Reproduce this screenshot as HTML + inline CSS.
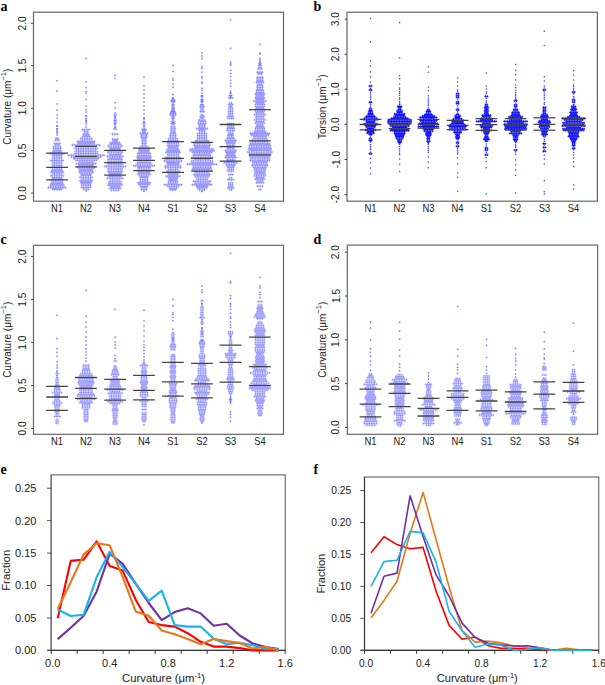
<!DOCTYPE html><html><head><meta charset="utf-8"><style>html,body{margin:0;padding:0;background:#fff;overflow:hidden;font-family:"Liberation Sans",sans-serif}svg{display:block}</style></head><body><svg width="605" height="685" viewBox="0 0 605 685" font-family="'Liberation Sans', sans-serif" fill="#222"><defs><filter id="bl" x="-5%" y="-5%" width="110%" height="110%"><feGaussianBlur stdDeviation="0.45"/></filter><filter id="bl2"><feGaussianBlur stdDeviation="0.3"/></filter></defs><rect width="605" height="685" fill="#fff"/><text x="0.5" y="11" font-family="'Liberation Serif', serif" font-weight="bold" font-size="14" fill="#000">a</text><text x="313.5" y="10.5" font-family="'Liberation Serif', serif" font-weight="bold" font-size="14" fill="#000">b</text><text x="0.5" y="243.5" font-family="'Liberation Serif', serif" font-weight="bold" font-size="14" fill="#000">c</text><text x="313.5" y="243.5" font-family="'Liberation Serif', serif" font-weight="bold" font-size="14" fill="#000">d</text><text x="0.5" y="474" font-family="'Liberation Serif', serif" font-weight="bold" font-size="14" fill="#000">e</text><text x="313.5" y="474" font-family="'Liberation Serif', serif" font-weight="bold" font-size="14" fill="#000">f</text><g filter="url(#bl)"><path d="M55 138.4h4.3M54.1 140.1h6M53.3 143.5h7.7M54.1 145.2h6M52.4 146.9h9.4M52.4 148.6h9.4M52.4 150.3h9.4M51.6 152h11.1M49 153.7h16.2M51.6 155.4h11.1M51.6 157.1h11.1M51.6 158.8h11.1M49.9 160.5h14.5M51.6 162.2h11.1M51.6 163.9h11.1M51.6 165.6h11.1M51.6 167.3h11.1M51.6 169h11.1M50.7 170.7h12.8M49.9 172.4h14.5M51.6 174.1h11.1M49.9 175.8h14.5M51.6 177.5h11.1M50.7 179.2h12.8M50.7 180.9h12.8M50.7 182.6h12.8M49.9 184.3h14.5M49 186h16.2M47.3 187.7h19.6M51.6 189.4h11.1" stroke="#5050ff" stroke-opacity="0.5" stroke-width="0.9" fill="none"/><path d="M55.8 138.4h2.6M54.9 140.1h4.3M54.1 143.5h6M54.9 145.2h4.3M53.2 146.9h7.7M53.2 148.6h7.7M53.2 150.3h7.7M52.4 152h9.4M49.9 153.7h14.5M52.4 155.4h9.4M52.4 157.1h9.4M52.4 158.8h9.4M50.7 160.5h12.8M52.4 162.2h9.4M52.4 163.9h9.4M52.4 165.6h9.4M52.4 167.3h9.4M52.4 169h9.4M51.5 170.7h11.1M50.7 172.4h12.8M52.4 174.1h9.4M50.7 175.8h12.8M52.4 177.5h9.4M51.5 179.2h11.1M51.5 180.9h11.1M51.5 182.6h11.1M50.7 184.3h12.8M49.9 186h14.5M48.1 187.7h17.9M52.4 189.4h9.4" stroke="#5050ff" stroke-opacity="0.5" stroke-width="2.6" stroke-dasharray="0.9 0.8" fill="none"/><path d="M56.1 80.7h2m-1 -1v2M56.1 91h2m-1 -1v2M56.1 104h2m-1 -1v2M56.1 110h2m-1 -1v2M56.1 115h2m-1 -1v2M56.1 118h2m-1 -1v2M56.1 122h2m-1 -1v2M56.1 126h2m-1 -1v2M56.1 129h2m-1 -1v2M56.1 132h2m-1 -1v2M56.1 126h2m-1 -1v2M56.1 128.8h2m-1 -1v2M56.1 130.7h2m-1 -1v2M56.1 133h2m-1 -1v2M56.1 135h2m-1 -1v2" stroke="#5050ff" stroke-opacity="0.55" stroke-width="0.9" fill="none"/><path d="M81.4 129.7h9.4M83.1 131.4h6M83.1 133.1h6M82.2 134.8h7.7M81.4 136.5h9.4M79.7 138.2h12.8M79.7 139.9h12.8M76.3 141.6h19.6M77.1 143.3h17.9M71.2 145h29.8M77.1 146.7h17.9M73.8 148.4h24.7M75.5 150.1h21.3M73.8 151.8h24.7M73.8 153.5h24.7M67 155.2h38.3M70.3 156.9h31.5M72.9 158.6h26.4M74.6 160.3h23M78 162h16.2M75.5 163.7h21.3M78 165.4h16.2M76.3 167.1h19.6M78 168.8h16.2M78.8 170.5h14.5M78 172.2h16.2M79.7 173.9h12.8M80.5 175.6h11.1M78.8 177.3h14.5M80.5 179h11.1M78.8 180.7h14.5M79.7 182.4h12.8M80.5 184.1h11.1M80.5 185.8h11.1M80.5 187.5h11.1M82.2 189.2h7.7" stroke="#5050ff" stroke-opacity="0.5" stroke-width="0.9" fill="none"/><path d="M82.2 129.7h7.7M83.9 131.4h4.3M83.9 133.1h4.3M83.1 134.8h6M82.2 136.5h7.7M80.5 138.2h11.1M80.5 139.9h11.1M77.1 141.6h17.9M78 143.3h16.2M72 145h28.1M78 146.7h16.2M74.6 148.4h23M76.3 150.1h19.6M74.6 151.8h23M74.6 153.5h23M67.8 155.2h36.6M71.2 156.9h29.8M73.7 158.6h24.7M75.4 160.3h21.3M78.8 162h14.5M76.3 163.7h19.6M78.8 165.4h14.5M77.1 167.1h17.9M78.8 168.8h14.5M79.7 170.5h12.8M78.8 172.2h14.5M80.5 173.9h11.1M81.4 175.6h9.4M79.7 177.3h12.8M81.4 179h9.4M79.7 180.7h12.8M80.5 182.4h11.1M81.4 184.1h9.4M81.4 185.8h9.4M81.4 187.5h9.4M83.1 189.2h6" stroke="#5050ff" stroke-opacity="0.5" stroke-width="2.6" stroke-dasharray="0.9 0.8" fill="none"/><path d="M85.1 58.5h2m-1 -1v2M85.1 82h2m-1 -1v2M85.1 87.7h2m-1 -1v2M85.1 91.5h2m-1 -1v2M85.1 93.5h2m-1 -1v2M85.1 99.5h2m-1 -1v2M85.1 106h2m-1 -1v2M85.1 109.5h2m-1 -1v2M85.1 112h2m-1 -1v2M85.1 116h2m-1 -1v2M85.1 119h2m-1 -1v2M85.1 121h2m-1 -1v2M85.1 116h2m-1 -1v2M85.1 118.4h2m-1 -1v2M85.1 120.8h2m-1 -1v2M85.1 122.5h2m-1 -1v2M85.1 124.3h2m-1 -1v2M85.1 127.1h2m-1 -1v2M85.1 190.9h2m-1 -1v2" stroke="#5050ff" stroke-opacity="0.55" stroke-width="0.9" fill="none"/><path d="M113 115h4.3M113 120.2h4.3M113 122.9h4.3M113 129h4.3M111.2 134.1h7.7M111.2 139.2h7.7M112.1 140.9h6M109.5 142.6h11.1M108.7 144.3h12.8M107 146h16.2M108.7 147.7h12.8M109.5 149.4h11.1M107 151.1h16.2M107 152.8h16.2M108.7 154.5h12.8M106.1 156.2h17.9M107.8 157.9h14.5M107 159.6h16.2M107 161.3h16.2M107 163h16.2M107 164.7h16.2M103.6 166.4h23M107 168.1h16.2M107 169.8h16.2M107 171.5h16.2M107.8 173.2h14.5M108.7 174.9h12.8M107.8 176.6h14.5M106.1 178.3h17.9M109.5 180h11.1M107.8 181.7h14.5M107.8 183.4h14.5M107 185.1h16.2M109.5 186.8h11.1M108.7 188.5h12.8M110.4 190.2h9.4" stroke="#5050ff" stroke-opacity="0.5" stroke-width="0.9" fill="none"/><path d="M113.8 115h2.6M113.8 120.2h2.6M113.8 122.9h2.6M113.8 129h2.6M112.1 134.1h6M112.1 139.2h6M112.9 140.9h4.3M110.4 142.6h9.4M109.5 144.3h11.1M107.8 146h14.5M109.5 147.7h11.1M110.4 149.4h9.4M107.8 151.1h14.5M107.8 152.8h14.5M109.5 154.5h11.1M107 156.2h16.2M108.7 157.9h12.8M107.8 159.6h14.5M107.8 161.3h14.5M107.8 163h14.5M107.8 164.7h14.5M104.4 166.4h21.3M107.8 168.1h14.5M107.8 169.8h14.5M107.8 171.5h14.5M108.7 173.2h12.8M109.5 174.9h11.1M108.7 176.6h12.8M107 178.3h16.2M110.4 180h9.4M108.7 181.7h12.8M108.7 183.4h12.8M107.8 185.1h14.5M110.4 186.8h9.4M109.5 188.5h11.1M111.2 190.2h7.7" stroke="#5050ff" stroke-opacity="0.5" stroke-width="2.6" stroke-dasharray="0.9 0.8" fill="none"/><path d="M114.1 75.4h2m-1 -1v2M114.1 78.3h2m-1 -1v2M114.1 102.7h2m-1 -1v2M114.1 108h2m-1 -1v2M114.1 113h2m-1 -1v2M114.1 117h2m-1 -1v2M114.1 121h2m-1 -1v2M114.1 124h2m-1 -1v2M114.1 127h2m-1 -1v2M114.1 116.8h2m-1 -1v2M114.1 118.5h2m-1 -1v2M114.1 125h2m-1 -1v2M114.1 127.7h2m-1 -1v2" stroke="#5050ff" stroke-opacity="0.55" stroke-width="0.9" fill="none"/><path d="M141.8 124h4.3M141.8 129.1h4.3M141 130h6M141.8 131.7h4.3M139.3 133.4h9.4M140.1 135.1h7.7M140.1 136.8h7.7M141 138.5h6M141 140.2h6M141 141.9h6M141 143.6h6M141 145.3h6M139.3 147h9.4M137.6 148.7h12.8M138.4 150.4h11.1M137.6 152.1h12.8M136.8 153.8h14.5M136.8 155.5h14.5M135.9 157.2h16.2M136.8 158.9h14.5M136.8 160.6h14.5M136.8 162.3h14.5M135.9 164h16.2M132.5 165.7h23M136.8 167.4h14.5M136.8 169.1h14.5M136.8 170.8h14.5M137.6 172.5h12.8M136.8 174.2h14.5M138.4 175.9h11.1M139.3 177.6h9.4M139.3 179.3h9.4M139.3 181h9.4M136.8 182.7h14.5M137.6 184.4h12.8M139.3 186.1h9.4M140.1 187.8h7.7M140.1 189.5h7.7" stroke="#5050ff" stroke-opacity="0.5" stroke-width="0.9" fill="none"/><path d="M142.7 124h2.6M142.7 129.1h2.6M141.9 130h4.3M142.7 131.7h2.6M140.2 133.4h7.7M141 135.1h6M141 136.8h6M141.9 138.5h4.3M141.9 140.2h4.3M141.9 141.9h4.3M141.9 143.6h4.3M141.9 145.3h4.3M140.2 147h7.7M138.5 148.7h11.1M139.3 150.4h9.4M138.5 152.1h11.1M137.6 153.8h12.8M137.6 155.5h12.8M136.8 157.2h14.5M137.6 158.9h12.8M137.6 160.6h12.8M137.6 162.3h12.8M136.8 164h14.5M133.4 165.7h21.3M137.6 167.4h12.8M137.6 169.1h12.8M137.6 170.8h12.8M138.5 172.5h11.1M137.6 174.2h12.8M139.3 175.9h9.4M140.2 177.6h7.7M140.2 179.3h7.7M140.2 181h7.7M137.6 182.7h12.8M138.5 184.4h11.1M140.2 186.1h7.7M141 187.8h6M141 189.5h6" stroke="#5050ff" stroke-opacity="0.5" stroke-width="2.6" stroke-dasharray="0.9 0.8" fill="none"/><path d="M143 76.9h2m-1 -1v2M143 86h2m-1 -1v2M143 90h2m-1 -1v2M143 94h2m-1 -1v2M143 98h2m-1 -1v2M143 102h2m-1 -1v2M143 106h2m-1 -1v2M143 110h2m-1 -1v2M143 114h2m-1 -1v2M143 118h2m-1 -1v2M143 122h2m-1 -1v2M143 126h2m-1 -1v2M143 118h2m-1 -1v2M143 119.8h2m-1 -1v2M143 122.4h2m-1 -1v2M143 126.8h2m-1 -1v2M143 191.2h2m-1 -1v2" stroke="#5050ff" stroke-opacity="0.55" stroke-width="0.9" fill="none"/><path d="M170.8 100.3h4.3M170.8 106.9h4.3M170.8 111h4.3M170.8 113.6h4.3M170.8 99.7h4.3M170 101.4h6M170.8 104.8h4.3M170.8 108.2h4.3M170.8 109.9h4.3M170 111.6h6M169.1 113.3h7.7M169.1 115h7.7M170.8 116.7h4.3M170.8 118.4h4.3M170 121.8h6M170 123.5h6M170 126.9h6M170 128.6h6M170 130.3h6M170 132h6M169.1 133.7h7.7M169.1 135.4h7.7M169.1 137.1h7.7M167.4 138.8h11.1M167.4 140.5h11.1M166.6 142.2h12.8M166.6 143.9h12.8M166.6 145.6h12.8M167.4 147.3h11.1M166.6 149h12.8M165.8 150.7h14.5M164.9 152.4h16.2M166.6 154.1h12.8M166.6 155.8h12.8M164.9 157.5h16.2M164.9 159.2h16.2M163.2 160.9h19.6M165.8 162.6h14.5M166.6 164.3h12.8M164 166h17.9M164 167.7h17.9M167.4 169.4h11.1M165.8 171.1h14.5M166.6 172.8h12.8M167.4 174.5h11.1M164.9 176.2h16.2M167.4 177.9h11.1M168.3 179.6h9.4M167.4 181.3h11.1M167.4 183h11.1M163.2 184.7h19.6M166.6 186.4h12.8M168.3 188.1h9.4M169.1 189.8h7.7" stroke="#5050ff" stroke-opacity="0.5" stroke-width="0.9" fill="none"/><path d="M171.7 100.3h2.6M171.7 106.9h2.6M171.7 111h2.6M171.7 113.6h2.6M171.7 99.7h2.6M170.9 101.4h4.3M171.7 104.8h2.6M171.7 108.2h2.6M171.7 109.9h2.6M170.9 111.6h4.3M170 113.3h6M170 115h6M171.7 116.7h2.6M171.7 118.4h2.6M170.9 121.8h4.3M170.9 123.5h4.3M170.9 126.9h4.3M170.9 128.6h4.3M170.9 130.3h4.3M170.9 132h4.3M170 133.7h6M170 135.4h6M170 137.1h6M168.3 138.8h9.4M168.3 140.5h9.4M167.5 142.2h11.1M167.5 143.9h11.1M167.5 145.6h11.1M168.3 147.3h9.4M167.5 149h11.1M166.6 150.7h12.8M165.8 152.4h14.5M167.5 154.1h11.1M167.5 155.8h11.1M165.8 157.5h14.5M165.8 159.2h14.5M164.1 160.9h17.9M166.6 162.6h12.8M167.5 164.3h11.1M164.9 166h16.2M164.9 167.7h16.2M168.3 169.4h9.4M166.6 171.1h12.8M167.5 172.8h11.1M168.3 174.5h9.4M165.8 176.2h14.5M168.3 177.9h9.4M169.2 179.6h7.7M168.3 181.3h9.4M168.3 183h9.4M164.1 184.7h17.9M167.5 186.4h11.1M169.2 188.1h7.7M170 189.8h6" stroke="#5050ff" stroke-opacity="0.5" stroke-width="2.6" stroke-dasharray="0.9 0.8" fill="none"/><path d="M172 65.5h2m-1 -1v2M172 71.4h2m-1 -1v2M172 78.4h2m-1 -1v2M172 80.3h2m-1 -1v2M172 84h2m-1 -1v2M172 87.1h2m-1 -1v2M172 94.5h2m-1 -1v2M172 98h2m-1 -1v2M172 103h2m-1 -1v2M172 105.1h2m-1 -1v2M172 108.6h2m-1 -1v2M172 115.4h2m-1 -1v2M172 117.8h2m-1 -1v2M172 120.1h2m-1 -1v2M172 122.5h2m-1 -1v2M172 124.7h2m-1 -1v2M172 98h2m-1 -1v2" stroke="#5050ff" stroke-opacity="0.55" stroke-width="0.9" fill="none"/><path d="M199.8 96h4.3M199.8 104.5h4.3M199.8 99.7h4.3M199.8 101.4h4.3M199.8 104.8h4.3M199 106.5h6M199.8 108.2h4.3M199.8 109.9h4.3M199 111.6h6M199.8 115h4.3M199 116.7h6M199.8 118.4h4.3M198.1 120.1h7.7M197.3 121.8h9.4M197.3 123.5h9.4M198.1 125.2h7.7M198.1 126.9h7.7M195.6 128.6h12.8M198.1 130.3h7.7M198.1 132h7.7M196.4 133.7h11.1M196.4 135.4h11.1M196.4 137.1h11.1M196.4 138.8h11.1M194.8 140.5h14.5M193.9 142.2h16.2M193 143.9h17.9M193 145.6h17.9M193.9 147.3h16.2M189.6 149h24.7M188.8 150.7h26.4M191.3 152.4h21.3M193 154.1h17.9M192.2 155.8h19.6M190.5 157.5h23M193.9 159.2h16.2M190.5 160.9h23M190.5 162.6h23M186.2 164.3h31.5M192.2 166h19.6M192.2 167.7h19.6M191.3 169.4h21.3M193 171.1h17.9M194.8 172.8h14.5M193 174.5h17.9M193.9 176.2h16.2M195.6 177.9h12.8M195.6 179.6h12.8M192.2 181.3h19.6M193.9 183h16.2M191.3 184.7h21.3M195.6 186.4h12.8M196.4 188.1h11.1M198.1 189.8h7.7" stroke="#5050ff" stroke-opacity="0.5" stroke-width="0.9" fill="none"/><path d="M200.7 96h2.6M200.7 104.5h2.6M200.7 99.7h2.6M200.7 101.4h2.6M200.7 104.8h2.6M199.9 106.5h4.3M200.7 108.2h2.6M200.7 109.9h2.6M199.9 111.6h4.3M200.7 115h2.6M199.9 116.7h4.3M200.7 118.4h2.6M199 120.1h6M198.2 121.8h7.7M198.2 123.5h7.7M199 125.2h6M199 126.9h6M196.5 128.6h11.1M199 130.3h6M199 132h6M197.3 133.7h9.4M197.3 135.4h9.4M197.3 137.1h9.4M197.3 138.8h9.4M195.6 140.5h12.8M194.8 142.2h14.5M193.9 143.9h16.2M193.9 145.6h16.2M194.8 147.3h14.5M190.5 149h23M189.7 150.7h24.7M192.2 152.4h19.6M193.9 154.1h16.2M193.1 155.8h17.9M191.4 157.5h21.3M194.8 159.2h14.5M191.4 160.9h21.3M191.4 162.6h21.3M187.1 164.3h29.8M193.1 166h17.9M193.1 167.7h17.9M192.2 169.4h19.6M193.9 171.1h16.2M195.6 172.8h12.8M193.9 174.5h16.2M194.8 176.2h14.5M196.5 177.9h11.1M196.5 179.6h11.1M193.1 181.3h17.9M194.8 183h14.5M192.2 184.7h19.6M196.5 186.4h11.1M197.3 188.1h9.4M199 189.8h6" stroke="#5050ff" stroke-opacity="0.5" stroke-width="2.6" stroke-dasharray="0.9 0.8" fill="none"/><path d="M201 53h2m-1 -1v2M201 56h2m-1 -1v2M201 58.6h2m-1 -1v2M201 66.6h2m-1 -1v2M201 68.5h2m-1 -1v2M201 72.2h2m-1 -1v2M201 76.6h2m-1 -1v2M201 78.4h2m-1 -1v2M201 82.1h2m-1 -1v2M201 83.4h2m-1 -1v2M201 88.3h2m-1 -1v2M201 90.2h2m-1 -1v2M201 93.3h2m-1 -1v2M201 95.8h2m-1 -1v2M201 97.6h2m-1 -1v2M201 100.2h2m-1 -1v2M201 102.3h2m-1 -1v2M201 191.5h2m-1 -1v2" stroke="#5050ff" stroke-opacity="0.55" stroke-width="0.9" fill="none"/><path d="M228.4 95.7h4.3M227.6 98h6M228.4 103.1h4.3M227.6 104.8h6M228.4 106.5h4.3M227.6 108.2h6M227.6 109.9h6M227.6 111.6h6M227.6 113.3h6M227.6 115h6M226.7 116.7h7.7M226.7 118.4h7.7M226.7 123.5h7.7M226.7 125.2h7.7M226.7 126.9h7.7M225.9 128.6h9.4M225.9 130.3h9.4M227.6 132h6M227.6 133.7h6M226.7 135.4h7.7M226.7 137.1h7.7M225.9 138.8h9.4M224.2 140.5h12.8M225 142.2h11.1M225.9 143.9h9.4M225.9 145.6h9.4M226.7 147.3h7.7M225.9 149h9.4M224.2 150.7h12.8M225 152.4h11.1M225.9 154.1h9.4M225 155.8h11.1M224.2 157.5h12.8M225.9 159.2h9.4M225.9 160.9h9.4M223.3 162.6h14.5M225 164.3h11.1M225.9 166h9.4M226.7 167.7h7.7M226.7 169.4h7.7M226.7 171.1h7.7M227.6 174.5h6M228.4 177.9h4.3M226.7 179.6h7.7M227.6 183h6M227.6 184.7h6M227.6 186.4h6M226.7 188.1h7.7M228.4 189.8h4.3" stroke="#5050ff" stroke-opacity="0.5" stroke-width="0.9" fill="none"/><path d="M229.3 95.7h2.6M228.5 98h4.3M229.3 103.1h2.6M228.5 104.8h4.3M229.3 106.5h2.6M228.5 108.2h4.3M228.5 109.9h4.3M228.5 111.6h4.3M228.5 113.3h4.3M228.5 115h4.3M227.6 116.7h6M227.6 118.4h6M227.6 123.5h6M227.6 125.2h6M227.6 126.9h6M226.8 128.6h7.7M226.8 130.3h7.7M228.5 132h4.3M228.5 133.7h4.3M227.6 135.4h6M227.6 137.1h6M226.8 138.8h7.7M225.1 140.5h11.1M225.9 142.2h9.4M226.8 143.9h7.7M226.8 145.6h7.7M227.6 147.3h6M226.8 149h7.7M225.1 150.7h11.1M225.9 152.4h9.4M226.8 154.1h7.7M225.9 155.8h9.4M225.1 157.5h11.1M226.8 159.2h7.7M226.8 160.9h7.7M224.2 162.6h12.8M225.9 164.3h9.4M226.8 166h7.7M227.6 167.7h6M227.6 169.4h6M227.6 171.1h6M228.5 174.5h4.3M229.3 177.9h2.6M227.6 179.6h6M228.5 183h4.3M228.5 184.7h4.3M228.5 186.4h4.3M227.6 188.1h6M229.3 189.8h2.6" stroke="#5050ff" stroke-opacity="0.5" stroke-width="2.6" stroke-dasharray="0.9 0.8" fill="none"/><path d="M229.6 19.8h2m-1 -1v2M229.6 48.3h2m-1 -1v2M229.6 62.2h2m-1 -1v2M229.6 64h2m-1 -1v2M229.6 65.3h2m-1 -1v2M229.6 70.3h2m-1 -1v2M229.6 73.4h2m-1 -1v2M229.6 76.5h2m-1 -1v2M229.6 80.2h2m-1 -1v2M229.6 83.3h2m-1 -1v2M229.6 86.4h2m-1 -1v2M229.6 91.3h2m-1 -1v2M229.6 93.2h2m-1 -1v2M229.6 95.7h2m-1 -1v2M229.6 93h2m-1 -1v2M229.6 97.7h2m-1 -1v2" stroke="#5050ff" stroke-opacity="0.55" stroke-width="0.9" fill="none"/><path d="M257.7 63.7h4.3M257.7 65.4h4.3M257.7 67.1h4.3M256.9 68.8h6M256 72.2h7.7M256.9 73.9h6M256 77.3h7.7M256 79h7.7M256 80.7h7.7M255.2 82.4h9.4M256.9 84.1h6M256 85.8h7.7M256 87.5h7.7M256 89.2h7.7M255.2 90.9h9.4M255.2 92.6h9.4M254.3 94.3h11.1M255.2 96h9.4M254.3 97.7h11.1M255.2 99.4h9.4M252.6 101.1h14.5M255.2 102.8h9.4M254.3 104.5h11.1M254.3 106.2h11.1M255.2 107.9h9.4M254.3 109.6h11.1M254.3 111.3h11.1M255.2 113h9.4M253.5 114.7h12.8M255.2 116.4h9.4M255.2 118.1h9.4M253.5 119.8h12.8M255.2 121.5h9.4M254.3 123.2h11.1M256 124.9h7.7M255.2 126.6h9.4M254.3 128.3h11.1M254.3 130h11.1M253.5 131.7h12.8M249.2 133.4h21.3M250.1 135.1h19.6M252.6 136.8h14.5M252.6 138.5h14.5M250.9 140.2h17.9M250.9 141.9h17.9M249.2 143.6h21.3M248.4 145.3h23M248.4 147h23M247.5 148.7h24.7M248.4 150.4h23M246.7 152.1h26.4M248.4 153.8h23M248.4 155.5h23M249.2 157.2h21.3M249.2 158.9h21.3M249.2 160.6h21.3M251.8 162.3h16.2M251.8 164h16.2M250.9 165.7h17.9M252.6 167.4h14.5M253.5 169.1h12.8M253.5 170.8h12.8M254.3 172.5h11.1M253.5 174.2h12.8M253.5 175.9h12.8M255.2 177.6h9.4M254.3 179.3h11.1M256 181h7.7M255.2 182.7h9.4M256 186.1h7.7M257.7 189.5h4.3" stroke="#5050ff" stroke-opacity="0.5" stroke-width="0.9" fill="none"/><path d="M258.6 63.7h2.6M258.6 65.4h2.6M258.6 67.1h2.6M257.8 68.8h4.3M256.9 72.2h6M257.8 73.9h4.3M256.9 77.3h6M256.9 79h6M256.9 80.7h6M256.1 82.4h7.7M257.8 84.1h4.3M256.9 85.8h6M256.9 87.5h6M256.9 89.2h6M256.1 90.9h7.7M256.1 92.6h7.7M255.2 94.3h9.4M256.1 96h7.7M255.2 97.7h9.4M256.1 99.4h7.7M253.5 101.1h12.8M256.1 102.8h7.7M255.2 104.5h9.4M255.2 106.2h9.4M256.1 107.9h7.7M255.2 109.6h9.4M255.2 111.3h9.4M256.1 113h7.7M254.3 114.7h11.1M256.1 116.4h7.7M256.1 118.1h7.7M254.3 119.8h11.1M256.1 121.5h7.7M255.2 123.2h9.4M256.9 124.9h6M256.1 126.6h7.7M255.2 128.3h9.4M255.2 130h9.4M254.3 131.7h11.1M250.1 133.4h19.6M250.9 135.1h17.9M253.5 136.8h12.8M253.5 138.5h12.8M251.8 140.2h16.2M251.8 141.9h16.2M250.1 143.6h19.6M249.2 145.3h21.3M249.2 147h21.3M248.4 148.7h23M249.2 150.4h21.3M247.5 152.1h24.7M249.2 153.8h21.3M249.2 155.5h21.3M250.1 157.2h19.6M250.1 158.9h19.6M250.1 160.6h19.6M252.6 162.3h14.5M252.6 164h14.5M251.8 165.7h16.2M253.5 167.4h12.8M254.3 169.1h11.1M254.3 170.8h11.1M255.2 172.5h9.4M254.3 174.2h11.1M254.3 175.9h11.1M256.1 177.6h7.7M255.2 179.3h9.4M256.9 181h6M256.1 182.7h7.7M256.9 186.1h6M258.6 189.5h2.6" stroke="#5050ff" stroke-opacity="0.5" stroke-width="2.6" stroke-dasharray="0.9 0.8" fill="none"/><path d="M258.9 44.3h2m-1 -1v2M258.9 53h2m-1 -1v2M258.9 54h2m-1 -1v2M258.9 58.5h2m-1 -1v2M258.9 62.2h2m-1 -1v2M258.9 64.7h2m-1 -1v2M258.9 60h2m-1 -1v2M258.9 61.7h2m-1 -1v2" stroke="#5050ff" stroke-opacity="0.55" stroke-width="0.9" fill="none"/></g><path d="M46.2 153.2H68M46.2 167.4H68M46.2 179.8H68" stroke="#444" stroke-width="1.3" fill="none"/><path d="M75.2 146.4H97M75.2 156.4H97M75.2 166.9H97" stroke="#444" stroke-width="1.3" fill="none"/><path d="M104.2 150.3H126M104.2 162.6H126M104.2 175.2H126" stroke="#444" stroke-width="1.3" fill="none"/><path d="M133.1 148.1H154.9M133.1 160.3H154.9M133.1 170.7H154.9" stroke="#444" stroke-width="1.3" fill="none"/><path d="M162.1 141.6H183.9M162.1 158.4H183.9M162.1 172.3H183.9" stroke="#444" stroke-width="1.3" fill="none"/><path d="M191.1 142.4H212.9M191.1 158.3H212.9M191.1 171.2H212.9" stroke="#444" stroke-width="1.3" fill="none"/><path d="M219.7 124.5H241.5M219.7 146.6H241.5M219.7 161.2H241.5" stroke="#444" stroke-width="1.3" fill="none"/><path d="M249 109.6H270.8M249 140.8H270.8M249 154.9H270.8" stroke="#444" stroke-width="1.3" fill="none"/><rect x="33.5" y="12.2" width="250" height="189" fill="none" stroke="#666" stroke-width="1.2"/><path d="M31.1 193.1H33.5M31.1 150.6H33.5M31.1 108.2H33.5M31.1 65.7H33.5M31.1 23.3H33.5" stroke="#444" stroke-width="1"/><text x="26" y="193.1" transform="rotate(-90 26 193.1)" text-anchor="middle" font-size="10.2">0.0</text><text x="26" y="150.6" transform="rotate(-90 26 150.6)" text-anchor="middle" font-size="10.2">0.5</text><text x="26" y="108.2" transform="rotate(-90 26 108.2)" text-anchor="middle" font-size="10.2">1.0</text><text x="26" y="65.7" transform="rotate(-90 26 65.7)" text-anchor="middle" font-size="10.2">1.5</text><text x="26" y="23.3" transform="rotate(-90 26 23.3)" text-anchor="middle" font-size="10.2">2.0</text><text transform="translate(57.1 212) scale(1 1.13)" text-anchor="middle" font-size="9.4">N1</text><text transform="translate(86.1 212) scale(1 1.13)" text-anchor="middle" font-size="9.4">N2</text><text transform="translate(115.1 212) scale(1 1.13)" text-anchor="middle" font-size="9.4">N3</text><text transform="translate(144 212) scale(1 1.13)" text-anchor="middle" font-size="9.4">N4</text><text transform="translate(173 212) scale(1 1.13)" text-anchor="middle" font-size="9.4">S1</text><text transform="translate(202 212) scale(1 1.13)" text-anchor="middle" font-size="9.4">S2</text><text transform="translate(230.6 212) scale(1 1.13)" text-anchor="middle" font-size="9.4">S3</text><text transform="translate(259.9 212) scale(1 1.13)" text-anchor="middle" font-size="9.4">S4</text><text x="11.4" y="106.7" transform="rotate(-90 11.4 106.7)" text-anchor="middle" font-size="10">Curvature (<tspan font-size="10">&#956;</tspan>m<tspan font-size="7.6" dy="-5">&#8722;1</tspan><tspan dy="5">)</tspan></text><g filter="url(#bl)"><path d="M368.5 86h4M368.5 90h4M368.5 102.3h4M368.5 153.8h4M368.5 109h4M368.5 110.5h4M367.7 112h5.6M367.7 113.5h5.6M366.9 115h7.2M365.3 116.5h10.4M363.7 118h13.6M362.1 119.5h16.8M365.3 121h10.4M366.1 122.5h8.8M362.9 124h15.2M364.5 125.5h12M365.3 127h10.4M366.9 128.5h7.2M364.5 130h12M366.9 131.5h7.2M366.1 133h8.8M368.5 134.5h4M368.5 139h4M368.5 140.5h4" stroke="#0000ff" stroke-opacity="0.85" stroke-width="1.0" fill="none"/><path d="M369.2 86h2.6M369.2 90h2.6M369.2 102.3h2.6M369.2 153.8h2.6M369.2 109h2.6M369.2 110.5h2.6M368.4 112h4.2M368.4 113.5h4.2M367.6 115h5.8M366 116.5h9M364.4 118h12.2M362.8 119.5h15.4M366 121h9M366.8 122.5h7.4M363.6 124h13.8M365.2 125.5h10.6M366 127h9M367.6 128.5h5.8M365.2 130h10.6M367.6 131.5h5.8M366.8 133h7.4M369.2 134.5h2.6M369.2 139h2.6M369.2 140.5h2.6" stroke="#0000ff" stroke-opacity="0.85" stroke-width="2.4" stroke-dasharray="1.0 0.6" fill="none"/><path d="M369.8 18.6h1.5m-0.8 -0.8v1.5M369.8 42h1.5m-0.8 -0.8v1.5M369.8 61h1.5m-0.8 -0.8v1.5M369.8 66h1.5m-0.8 -0.8v1.5M369.8 72h1.5m-0.8 -0.8v1.5M369.8 77h1.5m-0.8 -0.8v1.5M369.8 82h1.5m-0.8 -0.8v1.5M369.8 173.9h1.5m-0.8 -0.8v1.5M369.8 168h1.5m-0.8 -0.8v1.5M369.8 163h1.5m-0.8 -0.8v1.5M369.8 158.5h1.5m-0.8 -0.8v1.5M369.8 88.5h1.5m-0.8 -0.8v1.5M369.8 92.3h1.5m-0.8 -0.8v1.5M369.8 94.1h1.5m-0.8 -0.8v1.5M369.8 96.2h1.5m-0.8 -0.8v1.5M369.8 97.8h1.5m-0.8 -0.8v1.5M369.8 99.7h1.5m-0.8 -0.8v1.5M369.8 104.3h1.5m-0.8 -0.8v1.5M369.8 106.1h1.5m-0.8 -0.8v1.5M369.8 107.5h1.5m-0.8 -0.8v1.5M369.8 142h1.5m-0.8 -0.8v1.5M369.8 144.5h1.5m-0.8 -0.8v1.5M369.8 146.5h1.5m-0.8 -0.8v1.5M369.8 148h1.5m-0.8 -0.8v1.5M369.8 149.5h1.5m-0.8 -0.8v1.5M369.8 152.1h1.5m-0.8 -0.8v1.5M369.8 136h1.5m-0.8 -0.8v1.5M369.8 137.5h1.5m-0.8 -0.8v1.5" stroke="#0000ff" stroke-opacity="0.5" stroke-width="1.0" fill="none"/><path d="M396.8 106.5h5.6M397.6 108h4M397.6 109.5h4M396 111h7.2M396.8 112.5h5.6M393.6 114h12M394.4 115.5h10.4M392.8 117h13.6M390.4 118.5h18.4M387.2 120h24.8M387.2 121.5h24.8M387.2 123h24.8M389.6 124.5h20M389.6 126h20M392 127.5h15.2M390.4 129h18.4M389.6 130.5h20M393.6 132h12M393.6 133.5h12M394.4 135h10.4M395.2 136.5h8.8M395.2 138h8.8M396.8 139.5h5.6M396.8 141h5.6M397.6 142.5h4" stroke="#0000ff" stroke-opacity="0.85" stroke-width="1.0" fill="none"/><path d="M397.5 106.5h4.2M398.3 108h2.6M398.3 109.5h2.6M396.7 111h5.8M397.5 112.5h4.2M394.3 114h10.6M395.1 115.5h9M393.5 117h12.2M391.1 118.5h17M387.9 120h23.4M387.9 121.5h23.4M387.9 123h23.4M390.3 124.5h18.6M390.3 126h18.6M392.7 127.5h13.8M391.1 129h17M390.3 130.5h18.6M394.3 132h10.6M394.3 133.5h10.6M395.1 135h9M395.9 136.5h7.4M395.9 138h7.4M397.5 139.5h4.2M397.5 141h4.2M398.3 142.5h2.6" stroke="#0000ff" stroke-opacity="0.85" stroke-width="2.4" stroke-dasharray="1.0 0.6" fill="none"/><path d="M398.9 22.7h1.5m-0.8 -0.8v1.5M398.9 58h1.5m-0.8 -0.8v1.5M398.9 75.6h1.5m-0.8 -0.8v1.5M398.9 78.8h1.5m-0.8 -0.8v1.5M398.9 84h1.5m-0.8 -0.8v1.5M398.9 190h1.5m-0.8 -0.8v1.5M398.9 171.5h1.5m-0.8 -0.8v1.5M398.9 164.3h1.5m-0.8 -0.8v1.5M398.9 159h1.5m-0.8 -0.8v1.5M398.9 88h1.5m-0.8 -0.8v1.5M398.9 89.4h1.5m-0.8 -0.8v1.5M398.9 91.8h1.5m-0.8 -0.8v1.5M398.9 93.4h1.5m-0.8 -0.8v1.5M398.9 95.3h1.5m-0.8 -0.8v1.5M398.9 97.9h1.5m-0.8 -0.8v1.5M398.9 99.3h1.5m-0.8 -0.8v1.5M398.9 101.5h1.5m-0.8 -0.8v1.5M398.9 103h1.5m-0.8 -0.8v1.5M398.9 104.4h1.5m-0.8 -0.8v1.5M398.9 144h1.5m-0.8 -0.8v1.5M398.9 146.5h1.5m-0.8 -0.8v1.5M398.9 148.9h1.5m-0.8 -0.8v1.5M398.9 150.9h1.5m-0.8 -0.8v1.5M398.9 153.1h1.5m-0.8 -0.8v1.5M398.9 154.6h1.5m-0.8 -0.8v1.5M398.9 105h1.5m-0.8 -0.8v1.5M398.9 144h1.5m-0.8 -0.8v1.5" stroke="#0000ff" stroke-opacity="0.5" stroke-width="1.0" fill="none"/><path d="M426.4 110h4M425.6 111.5h5.6M425.6 113h5.6M424 114.5h8.8M421.6 116h13.6M419.2 117.5h18.4M422.4 119h12M419.2 120.5h18.4M420.8 122h15.2M418.4 123.5h20M421.6 125h13.6M417.6 126.5h21.6M421.6 128h13.6M423.2 129.5h10.4M423.2 131h10.4M425.6 132.5h5.6M424.8 134h7.2M425.6 135.5h5.6M426.4 137h4M426.4 138.5h4M426.4 140h4M426.4 141.5h4" stroke="#0000ff" stroke-opacity="0.85" stroke-width="1.0" fill="none"/><path d="M427.1 110h2.6M426.3 111.5h4.2M426.3 113h4.2M424.7 114.5h7.4M422.3 116h12.2M419.9 117.5h17M423.1 119h10.6M419.9 120.5h17M421.5 122h13.8M419.1 123.5h18.6M422.3 125h12.2M418.3 126.5h20.2M422.3 128h12.2M423.9 129.5h9M423.9 131h9M426.3 132.5h4.2M425.5 134h5.8M426.3 135.5h4.2M427.1 137h2.6M427.1 138.5h2.6M427.1 140h2.6M427.1 141.5h2.6" stroke="#0000ff" stroke-opacity="0.85" stroke-width="2.4" stroke-dasharray="1.0 0.6" fill="none"/><path d="M427.6 67h1.5m-0.8 -0.8v1.5M427.6 72.3h1.5m-0.8 -0.8v1.5M427.6 87.2h1.5m-0.8 -0.8v1.5M427.6 91h1.5m-0.8 -0.8v1.5M427.6 167.8h1.5m-0.8 -0.8v1.5M427.6 162h1.5m-0.8 -0.8v1.5M427.6 157h1.5m-0.8 -0.8v1.5M427.6 95.8h1.5m-0.8 -0.8v1.5M427.6 98.1h1.5m-0.8 -0.8v1.5M427.6 100.2h1.5m-0.8 -0.8v1.5M427.6 102.1h1.5m-0.8 -0.8v1.5M427.6 104h1.5m-0.8 -0.8v1.5M427.6 105.6h1.5m-0.8 -0.8v1.5M427.6 108h1.5m-0.8 -0.8v1.5M427.6 143h1.5m-0.8 -0.8v1.5M427.6 144.4h1.5m-0.8 -0.8v1.5M427.6 146.8h1.5m-0.8 -0.8v1.5M427.6 148.8h1.5m-0.8 -0.8v1.5M427.6 150.7h1.5m-0.8 -0.8v1.5M427.6 152.4h1.5m-0.8 -0.8v1.5M427.6 143h1.5m-0.8 -0.8v1.5" stroke="#0000ff" stroke-opacity="0.5" stroke-width="1.0" fill="none"/><path d="M455.6 93.7h4M455.6 95.8h4M455.6 97.3h4M455.6 102h4M455.6 103.6h4M455.6 109.8h4M455.6 142.7h4M455.6 146.2h4M455.6 114.5h4M454 116h7.2M454.8 117.5h5.6M452.4 119h10.4M450.8 120.5h13.6M451.6 122h12M450.8 123.5h13.6M449.2 125h16.8M448.4 126.5h18.4M450 128h15.2M448.4 129.5h18.4M453.2 131h8.8M453.2 132.5h8.8M454.8 134h5.6M455.6 135.5h4M454.8 137h5.6M455.6 138.5h4" stroke="#0000ff" stroke-opacity="0.85" stroke-width="1.0" fill="none"/><path d="M456.3 93.7h2.6M456.3 95.8h2.6M456.3 97.3h2.6M456.3 102h2.6M456.3 103.6h2.6M456.3 109.8h2.6M456.3 142.7h2.6M456.3 146.2h2.6M456.3 114.5h2.6M454.7 116h5.8M455.5 117.5h4.2M453.1 119h9M451.5 120.5h12.2M452.3 122h10.6M451.5 123.5h12.2M449.9 125h15.4M449.1 126.5h17M450.7 128h13.8M449.1 129.5h17M453.9 131h7.4M453.9 132.5h7.4M455.5 134h4.2M456.3 135.5h2.6M455.5 137h4.2M456.3 138.5h2.6" stroke="#0000ff" stroke-opacity="0.85" stroke-width="2.4" stroke-dasharray="1.0 0.6" fill="none"/><path d="M456.9 78.1h1.5m-0.8 -0.8v1.5M456.9 82h1.5m-0.8 -0.8v1.5M456.9 86h1.5m-0.8 -0.8v1.5M456.9 191.4h1.5m-0.8 -0.8v1.5M456.9 177.4h1.5m-0.8 -0.8v1.5M456.9 173h1.5m-0.8 -0.8v1.5M456.9 163.8h1.5m-0.8 -0.8v1.5M456.9 158h1.5m-0.8 -0.8v1.5M456.9 90h1.5m-0.8 -0.8v1.5M456.9 91.4h1.5m-0.8 -0.8v1.5M456.9 99.5h1.5m-0.8 -0.8v1.5M456.9 105.9h1.5m-0.8 -0.8v1.5M456.9 108.2h1.5m-0.8 -0.8v1.5M456.9 111.4h1.5m-0.8 -0.8v1.5M456.9 139h1.5m-0.8 -0.8v1.5M456.9 141.1h1.5m-0.8 -0.8v1.5M456.9 144.2h1.5m-0.8 -0.8v1.5M456.9 148.4h1.5m-0.8 -0.8v1.5M456.9 150.4h1.5m-0.8 -0.8v1.5M456.9 152.2h1.5m-0.8 -0.8v1.5M456.9 154.2h1.5m-0.8 -0.8v1.5M456.9 113h1.5m-0.8 -0.8v1.5" stroke="#0000ff" stroke-opacity="0.5" stroke-width="1.0" fill="none"/><path d="M484.4 96.4h4M484.4 148.2h4M484.4 150h4M484.4 154.8h4M484.4 104.9h4M484.4 106.4h4M483.6 107.9h5.6M484.4 109.4h4M483.6 110.9h5.6M484.4 112.4h4M483.6 113.9h5.6M481.2 115.4h10.4M482 116.9h8.8M480.4 118.4h12M479.6 119.9h13.6M475.6 121.4h21.6M482 122.9h8.8M481.2 124.4h10.4M479.6 125.9h13.6M480.4 127.4h12M482.8 128.9h7.2M480.4 130.4h12M482.8 131.9h7.2M483.6 133.4h5.6M484.4 134.9h4M484.4 136.4h4M483.6 137.9h5.6M482.8 139.4h7.2M484.4 140.9h4" stroke="#0000ff" stroke-opacity="0.85" stroke-width="1.0" fill="none"/><path d="M485.1 96.4h2.6M485.1 148.2h2.6M485.1 150h2.6M485.1 154.8h2.6M485.1 104.9h2.6M485.1 106.4h2.6M484.3 107.9h4.2M485.1 109.4h2.6M484.3 110.9h4.2M485.1 112.4h2.6M484.3 113.9h4.2M481.9 115.4h9M482.7 116.9h7.4M481.1 118.4h10.6M480.3 119.9h12.2M476.3 121.4h20.2M482.7 122.9h7.4M481.9 124.4h9M480.3 125.9h12.2M481.1 127.4h10.6M483.5 128.9h5.8M481.1 130.4h10.6M483.5 131.9h5.8M484.3 133.4h4.2M485.1 134.9h2.6M485.1 136.4h2.6M484.3 137.9h4.2M483.5 139.4h5.8M485.1 140.9h2.6" stroke="#0000ff" stroke-opacity="0.85" stroke-width="2.4" stroke-dasharray="1.0 0.6" fill="none"/><path d="M485.6 73.1h1.5m-0.8 -0.8v1.5M485.6 86h1.5m-0.8 -0.8v1.5M485.6 89h1.5m-0.8 -0.8v1.5M485.6 194h1.5m-0.8 -0.8v1.5M485.6 167.8h1.5m-0.8 -0.8v1.5M485.6 161.5h1.5m-0.8 -0.8v1.5M485.6 157.5h1.5m-0.8 -0.8v1.5M485.6 92h1.5m-0.8 -0.8v1.5M485.6 93.9h1.5m-0.8 -0.8v1.5M485.6 98.3h1.5m-0.8 -0.8v1.5M485.6 100.8h1.5m-0.8 -0.8v1.5M485.6 102.4h1.5m-0.8 -0.8v1.5M485.6 104h1.5m-0.8 -0.8v1.5M485.6 141.6h1.5m-0.8 -0.8v1.5M485.6 144h1.5m-0.8 -0.8v1.5M485.6 146.3h1.5m-0.8 -0.8v1.5M485.6 152.5h1.5m-0.8 -0.8v1.5" stroke="#0000ff" stroke-opacity="0.5" stroke-width="1.0" fill="none"/><path d="M513.6 100.7h4M513.6 150.1h4M513.6 104.9h4M513.6 106.4h4M512.8 109.4h5.6M512.8 110.9h5.6M511.2 112.4h8.8M511.2 113.9h8.8M510.4 115.4h10.4M508 116.9h15.2M508.8 118.4h13.6M508.8 119.9h13.6M503.2 121.4h24.8M507.2 122.9h16.8M503.2 124.4h24.8M504 125.9h23.2M504.8 127.4h21.6M504 128.9h23.2M509.6 130.4h12M510.4 131.9h10.4M508.8 133.4h13.6M512 134.9h7.2M512.8 136.4h5.6M512.8 137.9h5.6M512.8 139.4h5.6M513.6 140.9h4" stroke="#0000ff" stroke-opacity="0.85" stroke-width="1.0" fill="none"/><path d="M514.3 100.7h2.6M514.3 150.1h2.6M514.3 104.9h2.6M514.3 106.4h2.6M513.5 109.4h4.2M513.5 110.9h4.2M511.9 112.4h7.4M511.9 113.9h7.4M511.1 115.4h9M508.7 116.9h13.8M509.5 118.4h12.2M509.5 119.9h12.2M503.9 121.4h23.4M507.9 122.9h15.4M503.9 124.4h23.4M504.7 125.9h21.8M505.5 127.4h20.2M504.7 128.9h21.8M510.3 130.4h10.6M511.1 131.9h9M509.5 133.4h12.2M512.7 134.9h5.8M513.5 136.4h4.2M513.5 137.9h4.2M513.5 139.4h4.2M514.3 140.9h2.6" stroke="#0000ff" stroke-opacity="0.85" stroke-width="2.4" stroke-dasharray="1.0 0.6" fill="none"/><path d="M514.9 64.5h1.5m-0.8 -0.8v1.5M514.9 70.4h1.5m-0.8 -0.8v1.5M514.9 75h1.5m-0.8 -0.8v1.5M514.9 80h1.5m-0.8 -0.8v1.5M514.9 193h1.5m-0.8 -0.8v1.5M514.9 175.5h1.5m-0.8 -0.8v1.5M514.9 170h1.5m-0.8 -0.8v1.5M514.9 165h1.5m-0.8 -0.8v1.5M514.9 160h1.5m-0.8 -0.8v1.5M514.9 85h1.5m-0.8 -0.8v1.5M514.9 87.6h1.5m-0.8 -0.8v1.5M514.9 90.1h1.5m-0.8 -0.8v1.5M514.9 92.6h1.5m-0.8 -0.8v1.5M514.9 94.4h1.5m-0.8 -0.8v1.5M514.9 95.8h1.5m-0.8 -0.8v1.5M514.9 97.6h1.5m-0.8 -0.8v1.5M514.9 99.2h1.5m-0.8 -0.8v1.5M514.9 102.9h1.5m-0.8 -0.8v1.5M514.9 142.6h1.5m-0.8 -0.8v1.5M514.9 144.6h1.5m-0.8 -0.8v1.5M514.9 146.1h1.5m-0.8 -0.8v1.5M514.9 147.6h1.5m-0.8 -0.8v1.5M514.9 152.1h1.5m-0.8 -0.8v1.5M514.9 154.6h1.5m-0.8 -0.8v1.5M514.9 107.9h1.5m-0.8 -0.8v1.5M514.9 142.4h1.5m-0.8 -0.8v1.5" stroke="#0000ff" stroke-opacity="0.5" stroke-width="1.0" fill="none"/><path d="M542.4 90h4M542.4 143.6h4M542.4 147.4h4M542.4 151.3h4M542.4 107.4h4M542.4 108.9h4M542.4 110.4h4M542.4 111.9h4M542.4 113.4h4M540.8 114.9h7.2M540 116.4h8.8M540.8 117.9h7.2M540.8 119.4h7.2M538.4 120.9h12M537.6 122.4h13.6M539.2 123.9h10.4M539.2 125.4h10.4M538.4 126.9h12M540 128.4h8.8M541.6 129.9h5.6M540.8 131.4h7.2M541.6 132.9h5.6M540.8 134.4h7.2M542.4 135.9h4" stroke="#0000ff" stroke-opacity="0.85" stroke-width="1.0" fill="none"/><path d="M543.1 90h2.6M543.1 143.6h2.6M543.1 147.4h2.6M543.1 151.3h2.6M543.1 107.4h2.6M543.1 108.9h2.6M543.1 110.4h2.6M543.1 111.9h2.6M543.1 113.4h2.6M541.5 114.9h5.8M540.7 116.4h7.4M541.5 117.9h5.8M541.5 119.4h5.8M539.1 120.9h10.6M538.3 122.4h12.2M539.9 123.9h9M539.9 125.4h9M539.1 126.9h10.6M540.7 128.4h7.4M542.3 129.9h4.2M541.5 131.4h5.8M542.3 132.9h4.2M541.5 134.4h5.8M543.1 135.9h2.6" stroke="#0000ff" stroke-opacity="0.85" stroke-width="2.4" stroke-dasharray="1.0 0.6" fill="none"/><path d="M543.6 31.3h1.5m-0.8 -0.8v1.5M543.6 45.5h1.5m-0.8 -0.8v1.5M543.6 76.6h1.5m-0.8 -0.8v1.5M543.6 81h1.5m-0.8 -0.8v1.5M543.6 86h1.5m-0.8 -0.8v1.5M543.6 194h1.5m-0.8 -0.8v1.5M543.6 191.7h1.5m-0.8 -0.8v1.5M543.6 180.6h1.5m-0.8 -0.8v1.5M543.6 164h1.5m-0.8 -0.8v1.5M543.6 159h1.5m-0.8 -0.8v1.5M543.6 155h1.5m-0.8 -0.8v1.5M543.6 88h1.5m-0.8 -0.8v1.5M543.6 91.7h1.5m-0.8 -0.8v1.5M543.6 93.9h1.5m-0.8 -0.8v1.5M543.6 95.8h1.5m-0.8 -0.8v1.5M543.6 97.7h1.5m-0.8 -0.8v1.5M543.6 99.4h1.5m-0.8 -0.8v1.5M543.6 137.7h1.5m-0.8 -0.8v1.5M543.6 139.7h1.5m-0.8 -0.8v1.5M543.6 141.4h1.5m-0.8 -0.8v1.5M543.6 145.2h1.5m-0.8 -0.8v1.5M543.6 149.6h1.5m-0.8 -0.8v1.5M543.6 102.9h1.5m-0.8 -0.8v1.5M543.6 104.4h1.5m-0.8 -0.8v1.5" stroke="#0000ff" stroke-opacity="0.5" stroke-width="1.0" fill="none"/><path d="M571.6 92.2h4M571.6 99.9h4M571.6 102h4M571.6 148.4h4M570.8 106.4h5.6M570.8 107.9h5.6M570 109.4h7.2M570.8 110.9h5.6M569.2 112.4h8.8M570 113.9h7.2M569.2 115.4h8.8M566.8 116.9h13.6M561.2 118.4h24.8M563.6 119.9h20M565.2 121.4h16.8M562 122.9h23.2M563.6 124.4h20M561.2 125.9h24.8M566 127.4h15.2M562 128.9h23.2M562.8 130.4h21.6M567.6 131.9h12M568.4 133.4h10.4M568.4 134.9h10.4M567.6 136.4h12M569.2 137.9h8.8M570 139.4h7.2M570.8 140.9h5.6M571.6 142.4h4M571.6 143.9h4M571.6 145.4h4" stroke="#0000ff" stroke-opacity="0.85" stroke-width="1.0" fill="none"/><path d="M572.3 92.2h2.6M572.3 99.9h2.6M572.3 102h2.6M572.3 148.4h2.6M571.5 106.4h4.2M571.5 107.9h4.2M570.7 109.4h5.8M571.5 110.9h4.2M569.9 112.4h7.4M570.7 113.9h5.8M569.9 115.4h7.4M567.5 116.9h12.2M561.9 118.4h23.4M564.3 119.9h18.6M565.9 121.4h15.4M562.7 122.9h21.8M564.3 124.4h18.6M561.9 125.9h23.4M566.7 127.4h13.8M562.7 128.9h21.8M563.5 130.4h20.2M568.3 131.9h10.6M569.1 133.4h9M569.1 134.9h9M568.3 136.4h10.6M569.9 137.9h7.4M570.7 139.4h5.8M571.5 140.9h4.2M572.3 142.4h2.6M572.3 143.9h2.6M572.3 145.4h2.6" stroke="#0000ff" stroke-opacity="0.85" stroke-width="2.4" stroke-dasharray="1.0 0.6" fill="none"/><path d="M572.9 70.6h1.5m-0.8 -0.8v1.5M572.9 75h1.5m-0.8 -0.8v1.5M572.9 80h1.5m-0.8 -0.8v1.5M572.9 189h1.5m-0.8 -0.8v1.5M572.9 184.8h1.5m-0.8 -0.8v1.5M572.9 166.7h1.5m-0.8 -0.8v1.5M572.9 162h1.5m-0.8 -0.8v1.5M572.9 158h1.5m-0.8 -0.8v1.5M572.9 85h1.5m-0.8 -0.8v1.5M572.9 86.5h1.5m-0.8 -0.8v1.5M572.9 88.4h1.5m-0.8 -0.8v1.5M572.9 90.2h1.5m-0.8 -0.8v1.5M572.9 94h1.5m-0.8 -0.8v1.5M572.9 96.5h1.5m-0.8 -0.8v1.5M572.9 98h1.5m-0.8 -0.8v1.5M572.9 104.5h1.5m-0.8 -0.8v1.5M572.9 146.6h1.5m-0.8 -0.8v1.5M572.9 149.8h1.5m-0.8 -0.8v1.5M572.9 152.4h1.5m-0.8 -0.8v1.5M572.9 154.9h1.5m-0.8 -0.8v1.5M572.9 104.9h1.5m-0.8 -0.8v1.5" stroke="#0000ff" stroke-opacity="0.5" stroke-width="1.0" fill="none"/></g><path d="M359.6 119.3H381.4M359.6 124.5H381.4M359.6 129.9H381.4" stroke="#444" stroke-width="1.3" fill="none"/><path d="M388.7 119.3H410.5M388.7 124.5H410.5M388.7 128.7H410.5" stroke="#444" stroke-width="1.3" fill="none"/><path d="M417.5 119.3H439.3M417.5 124.3H439.3M417.5 128.2H439.3" stroke="#444" stroke-width="1.3" fill="none"/><path d="M446.7 120.3H468.5M446.7 125.3H468.5M446.7 129.7H468.5" stroke="#444" stroke-width="1.3" fill="none"/><path d="M475.5 118.6H497.3M475.5 124.6H497.3M475.5 130.3H497.3" stroke="#444" stroke-width="1.3" fill="none"/><path d="M504.7 118.6H526.5M504.7 124.3H526.5M504.7 130.2H526.5" stroke="#444" stroke-width="1.3" fill="none"/><path d="M533.5 117.8H555.3M533.5 124.3H555.3M533.5 130.2H555.3" stroke="#444" stroke-width="1.3" fill="none"/><path d="M562.7 118.5H584.5M562.7 124.5H584.5M562.7 130.2H584.5" stroke="#444" stroke-width="1.3" fill="none"/><rect x="347" y="12.2" width="250.4" height="189" fill="none" stroke="#666" stroke-width="1.2"/><path d="M344.6 194.6H347M344.6 159.5H347M344.6 124.4H347M344.6 89.3H347M344.6 54.2H347M344.6 19.1H347" stroke="#444" stroke-width="1"/><text x="339.5" y="194.6" transform="rotate(-90 339.5 194.6)" text-anchor="middle" font-size="10.2">-2.0</text><text x="339.5" y="159.5" transform="rotate(-90 339.5 159.5)" text-anchor="middle" font-size="10.2">-1.0</text><text x="339.5" y="124.4" transform="rotate(-90 339.5 124.4)" text-anchor="middle" font-size="10.2">0.0</text><text x="339.5" y="89.3" transform="rotate(-90 339.5 89.3)" text-anchor="middle" font-size="10.2">1.0</text><text x="339.5" y="54.2" transform="rotate(-90 339.5 54.2)" text-anchor="middle" font-size="10.2">2.0</text><text x="339.5" y="19.1" transform="rotate(-90 339.5 19.1)" text-anchor="middle" font-size="10.2">3.0</text><text transform="translate(370.5 212) scale(1 1.13)" text-anchor="middle" font-size="9.4">N1</text><text transform="translate(399.6 212) scale(1 1.13)" text-anchor="middle" font-size="9.4">N2</text><text transform="translate(428.4 212) scale(1 1.13)" text-anchor="middle" font-size="9.4">N3</text><text transform="translate(457.6 212) scale(1 1.13)" text-anchor="middle" font-size="9.4">N4</text><text transform="translate(486.4 212) scale(1 1.13)" text-anchor="middle" font-size="9.4">S1</text><text transform="translate(515.6 212) scale(1 1.13)" text-anchor="middle" font-size="9.4">S2</text><text transform="translate(544.4 212) scale(1 1.13)" text-anchor="middle" font-size="9.4">S3</text><text transform="translate(573.6 212) scale(1 1.13)" text-anchor="middle" font-size="9.4">S4</text><text x="325.6" y="106.7" transform="rotate(-90 325.6 106.7)" text-anchor="middle" font-size="10">Torsion (<tspan font-size="10">&#956;</tspan>m<tspan font-size="7.6" dy="-5">&#8722;1</tspan><tspan dy="5">)</tspan></text><g filter="url(#bl)"><path d="M55 374h4.3M55 379.1h4.3M55 380.8h4.3M55 382.5h4.3M55 384.2h4.3M54.1 385.9h6M54.1 387.6h6M53.3 389.3h7.7M53.3 391h7.7M51.6 392.7h11.1M54.1 394.4h6M53.3 396.1h7.7M54.1 397.8h6M54.1 399.5h6M53.3 401.2h7.7M51.6 402.9h11.1M53.3 404.6h7.7M54.1 406.3h6M54.1 408h6M54.1 409.7h6M54.1 411.4h6M55 413.1h4.3M55 414.8h4.3M53.3 416.5h7.7M55 419.9h4.3M55 421.6h4.3M55 423.3h4.3" stroke="#5050ff" stroke-opacity="0.45" stroke-width="0.9" fill="none"/><path d="M55.8 374h2.6M55.8 379.1h2.6M55.8 380.8h2.6M55.8 382.5h2.6M55.8 384.2h2.6M54.9 385.9h4.3M54.9 387.6h4.3M54.1 389.3h6M54.1 391h6M52.4 392.7h9.4M54.9 394.4h4.3M54.1 396.1h6M54.9 397.8h4.3M54.9 399.5h4.3M54.1 401.2h6M52.4 402.9h9.4M54.1 404.6h6M54.9 406.3h4.3M54.9 408h4.3M54.9 409.7h4.3M54.9 411.4h4.3M55.8 413.1h2.6M55.8 414.8h2.6M54.1 416.5h6M55.8 419.9h2.6M55.8 421.6h2.6M55.8 423.3h2.6" stroke="#5050ff" stroke-opacity="0.45" stroke-width="2.6" stroke-dasharray="0.9 0.8" fill="none"/><path d="M56.1 315.3h2m-1 -1v2M56.1 338.6h2m-1 -1v2M56.1 348.7h2m-1 -1v2M56.1 352.4h2m-1 -1v2M56.1 356.2h2m-1 -1v2M56.1 361.7h2m-1 -1v2M56.1 365.4h2m-1 -1v2M56.1 367.9h2m-1 -1v2M56.1 371h2m-1 -1v2M56.1 372.3h2m-1 -1v2M56.1 375.7h2m-1 -1v2M56.1 377.4h2m-1 -1v2" stroke="#5050ff" stroke-opacity="0.55" stroke-width="0.9" fill="none"/><path d="M82.2 365.3h7.7M82.2 367h7.7M82.2 368.7h7.7M81.3 370.4h9.4M81.3 372.1h9.4M79.6 373.8h12.8M78.8 375.5h14.5M78.8 377.2h14.5M77.9 378.9h16.2M77.9 380.6h16.2M77 382.3h17.9M77.9 384h16.2M78.8 385.7h14.5M79.6 387.4h12.8M78.8 389.1h14.5M78.8 390.8h14.5M78.8 392.5h14.5M77 394.2h17.9M76.2 395.9h19.6M79.6 397.6h12.8M76.2 399.3h19.6M79.6 401h12.8M78.8 402.7h14.5M81.3 404.4h9.4M81.3 406.1h9.4M81.3 407.8h9.4M83 409.5h6M83 411.2h6M83 412.9h6M83 414.6h6M83 416.3h6M83 418h6M83 419.7h6M83.9 421.4h4.3" stroke="#5050ff" stroke-opacity="0.45" stroke-width="0.9" fill="none"/><path d="M83 365.3h6M83 367h6M83 368.7h6M82.1 370.4h7.7M82.1 372.1h7.7M80.5 373.8h11.1M79.6 375.5h12.8M79.6 377.2h12.8M78.8 378.9h14.5M78.8 380.6h14.5M77.9 382.3h16.2M78.8 384h14.5M79.6 385.7h12.8M80.5 387.4h11.1M79.6 389.1h12.8M79.6 390.8h12.8M79.6 392.5h12.8M77.9 394.2h16.2M77 395.9h17.9M80.5 397.6h11.1M77 399.3h17.9M80.5 401h11.1M79.6 402.7h12.8M82.1 404.4h7.7M82.1 406.1h7.7M82.1 407.8h7.7M83.8 409.5h4.3M83.8 411.2h4.3M83.8 412.9h4.3M83.8 414.6h4.3M83.8 416.3h4.3M83.8 418h4.3M83.8 419.7h4.3M84.7 421.4h2.6" stroke="#5050ff" stroke-opacity="0.45" stroke-width="2.6" stroke-dasharray="0.9 0.8" fill="none"/><path d="M85 290.4h2m-1 -1v2M85 316.3h2m-1 -1v2M85 322h2m-1 -1v2M85 327h2m-1 -1v2M85 332h2m-1 -1v2M85 337h2m-1 -1v2M85 341h2m-1 -1v2M85 345h2m-1 -1v2M85 349h2m-1 -1v2M85 352h2m-1 -1v2M85 355h2m-1 -1v2M85 358h2m-1 -1v2M85 361h2m-1 -1v2" stroke="#5050ff" stroke-opacity="0.55" stroke-width="0.9" fill="none"/><path d="M113 361h4.3M113 366.1h4.3M113 367.8h4.3M112.1 369.5h6M111.2 371.2h7.7M111.2 372.9h7.7M110.4 374.6h9.4M112.1 376.3h6M112.1 378h6M110.4 379.7h9.4M109.5 381.4h11.1M110.4 383.1h9.4M109.5 384.8h11.1M108.7 386.5h12.8M108.7 388.2h12.8M106.1 389.9h17.9M109.5 391.6h11.1M107 393.3h16.2M108.7 395h12.8M108.7 396.7h12.8M108.7 398.4h12.8M108.7 400.1h12.8M107 401.8h16.2M109.5 403.5h11.1M112.1 405.2h6M112.1 406.9h6M112.1 408.6h6M111.2 410.3h7.7M112.1 412h6M112.1 413.7h6M112.1 415.4h6M112.1 417.1h6M113 418.8h4.3M113 420.5h4.3M112.1 422.2h6M112.1 423.9h6" stroke="#5050ff" stroke-opacity="0.45" stroke-width="0.9" fill="none"/><path d="M113.8 361h2.6M113.8 366.1h2.6M113.8 367.8h2.6M112.9 369.5h4.3M112.1 371.2h6M112.1 372.9h6M111.2 374.6h7.7M112.9 376.3h4.3M112.9 378h4.3M111.2 379.7h7.7M110.4 381.4h9.4M111.2 383.1h7.7M110.4 384.8h9.4M109.5 386.5h11.1M109.5 388.2h11.1M107 389.9h16.2M110.4 391.6h9.4M107.8 393.3h14.5M109.5 395h11.1M109.5 396.7h11.1M109.5 398.4h11.1M109.5 400.1h11.1M107.8 401.8h14.5M110.4 403.5h9.4M112.9 405.2h4.3M112.9 406.9h4.3M112.9 408.6h4.3M112.1 410.3h6M112.9 412h4.3M112.9 413.7h4.3M112.9 415.4h4.3M112.9 417.1h4.3M113.8 418.8h2.6M113.8 420.5h2.6M112.9 422.2h4.3M112.9 423.9h4.3" stroke="#5050ff" stroke-opacity="0.45" stroke-width="2.6" stroke-dasharray="0.9 0.8" fill="none"/><path d="M114.1 309.3h2m-1 -1v2M114.1 337h2m-1 -1v2M114.1 342h2m-1 -1v2M114.1 345h2m-1 -1v2M114.1 348h2m-1 -1v2M114.1 355.6h2m-1 -1v2M114.1 358.6h2m-1 -1v2" stroke="#5050ff" stroke-opacity="0.55" stroke-width="0.9" fill="none"/><path d="M141.8 363.7h4.3M139.3 365.4h9.4M141 367.1h6M141 368.8h6M141 370.5h6M140.1 372.2h7.7M141 373.9h6M141 375.6h6M140.1 377.3h7.7M140.1 379h7.7M140.1 380.7h7.7M139.3 382.4h9.4M140.1 384.1h7.7M141 385.8h6M140.1 387.5h7.7M141 389.2h6M140.1 390.9h7.7M139.3 392.6h9.4M139.3 394.3h9.4M139.3 396h9.4M141 397.7h6M141 399.4h6M139.3 401.1h9.4M141 402.8h6M141 404.5h6M141 406.2h6M141 409.6h6M141 413h6M141 414.7h6M141 416.4h6M141 418.1h6M141 419.8h6M141.8 421.5h4.3" stroke="#5050ff" stroke-opacity="0.45" stroke-width="0.9" fill="none"/><path d="M142.7 363.7h2.6M140.2 365.4h7.7M141.9 367.1h4.3M141.9 368.8h4.3M141.9 370.5h4.3M141 372.2h6M141.9 373.9h4.3M141.9 375.6h4.3M141 377.3h6M141 379h6M141 380.7h6M140.2 382.4h7.7M141 384.1h6M141.9 385.8h4.3M141 387.5h6M141.9 389.2h4.3M141 390.9h6M140.2 392.6h7.7M140.2 394.3h7.7M140.2 396h7.7M141.9 397.7h4.3M141.9 399.4h4.3M140.2 401.1h7.7M141.9 402.8h4.3M141.9 404.5h4.3M141.9 406.2h4.3M141.9 409.6h4.3M141.9 413h4.3M141.9 414.7h4.3M141.9 416.4h4.3M141.9 418.1h4.3M141.9 419.8h4.3M142.7 421.5h2.6" stroke="#5050ff" stroke-opacity="0.45" stroke-width="2.6" stroke-dasharray="0.9 0.8" fill="none"/><path d="M143 310.3h2m-1 -1v2M143 320.8h2m-1 -1v2M143 326h2m-1 -1v2M143 331h2m-1 -1v2M143 336h2m-1 -1v2M143 341h2m-1 -1v2M143 345h2m-1 -1v2M143 347.5h2m-1 -1v2M143 350.6h2m-1 -1v2M143 353.7h2m-1 -1v2M143 356.8h2m-1 -1v2M143 359.9h2m-1 -1v2M143 362h2m-1 -1v2M143 424.9h2m-1 -1v2" stroke="#5050ff" stroke-opacity="0.55" stroke-width="0.9" fill="none"/><path d="M170.8 334.3h4.3M170.8 336h4.3M170.8 337.7h4.3M170.8 339.4h4.3M170.8 341.1h4.3M170.8 342.8h4.3M169.9 344.5h6M169 346.2h7.7M169.9 347.9h6M169.9 349.6h6M170.8 354.7h4.3M169.9 356.4h6M169.9 358.1h6M169.9 359.8h6M169.9 361.5h6M169.9 363.2h6M169.9 364.9h6M169 366.6h7.7M169.9 368.3h6M169.9 370h6M169 371.7h7.7M169.9 373.4h6M169.9 375.1h6M169 376.8h7.7M169.9 378.5h6M169.9 380.2h6M169.9 381.9h6M168.2 383.6h9.4M169 385.3h7.7M169 387h7.7M169.9 388.7h6M169 390.4h7.7M168.2 392.1h9.4M169 393.8h7.7M167.3 395.5h11.1M169 397.2h7.7M168.2 398.9h9.4M168.2 400.6h9.4M168.2 402.3h9.4M169 404h7.7M169 405.7h7.7M169 407.4h7.7M169.9 409.1h6M169.9 410.8h6M170.8 412.5h4.3M169.9 414.2h6M169.9 415.9h6M169.9 417.6h6M169.9 419.3h6M169.9 421h6M170.8 422.7h4.3" stroke="#5050ff" stroke-opacity="0.45" stroke-width="0.9" fill="none"/><path d="M171.6 334.3h2.6M171.6 336h2.6M171.6 337.7h2.6M171.6 339.4h2.6M171.6 341.1h2.6M171.6 342.8h2.6M170.8 344.5h4.3M169.9 346.2h6M170.8 347.9h4.3M170.8 349.6h4.3M171.6 354.7h2.6M170.8 356.4h4.3M170.8 358.1h4.3M170.8 359.8h4.3M170.8 361.5h4.3M170.8 363.2h4.3M170.8 364.9h4.3M169.9 366.6h6M170.8 368.3h4.3M170.8 370h4.3M169.9 371.7h6M170.8 373.4h4.3M170.8 375.1h4.3M169.9 376.8h6M170.8 378.5h4.3M170.8 380.2h4.3M170.8 381.9h4.3M169.1 383.6h7.7M169.9 385.3h6M169.9 387h6M170.8 388.7h4.3M169.9 390.4h6M169.1 392.1h7.7M169.9 393.8h6M168.2 395.5h9.4M169.9 397.2h6M169.1 398.9h7.7M169.1 400.6h7.7M169.1 402.3h7.7M169.9 404h6M169.9 405.7h6M169.9 407.4h6M170.8 409.1h4.3M170.8 410.8h4.3M171.6 412.5h2.6M170.8 414.2h4.3M170.8 415.9h4.3M170.8 417.6h4.3M170.8 419.3h4.3M170.8 421h4.3M171.6 422.7h2.6" stroke="#5050ff" stroke-opacity="0.45" stroke-width="2.6" stroke-dasharray="0.9 0.8" fill="none"/><path d="M171.9 299.5h2m-1 -1v2M171.9 305.6h2m-1 -1v2M171.9 312.8h2m-1 -1v2M171.9 314.6h2m-1 -1v2M171.9 317.3h2m-1 -1v2M171.9 320.6h2m-1 -1v2M171.9 329.2h2m-1 -1v2M171.9 338.2h2m-1 -1v2M171.9 340.6h2m-1 -1v2M171.9 332.6h2m-1 -1v2" stroke="#5050ff" stroke-opacity="0.55" stroke-width="0.9" fill="none"/><path d="M199.8 300.7h4.3M199.8 307.5h4.3M199.8 309.2h4.3M199.8 310.9h4.3M199.8 312.6h4.3M199.8 314.3h4.3M199.8 316h4.3M199 317.7h6M199.8 322.8h4.3M199.8 331.3h4.3M199.8 333h4.3M199.8 334.7h4.3M199.8 336.4h4.3M199.8 339.8h4.3M199 341.5h6M198.1 343.2h7.7M199 344.9h6M199 346.6h6M199.8 348.3h4.3M199.8 350h4.3M199.8 351.7h4.3M199.8 353.4h4.3M198.1 355.1h7.7M198.1 356.8h7.7M199 358.5h6M199 360.2h6M199 361.9h6M198.1 363.6h7.7M197.3 365.3h9.4M199 367h6M197.3 368.7h9.4M197.3 370.4h9.4M197.3 372.1h9.4M197.3 373.8h9.4M197.3 375.5h9.4M196.4 377.2h11.1M194.8 378.9h14.5M193.9 380.6h16.2M197.3 382.3h9.4M195.6 384h12.8M193.9 385.7h16.2M193 387.4h17.9M193 389.1h17.9M196.4 390.8h11.1M193.9 392.5h16.2M194.8 394.2h14.5M196.4 395.9h11.1M196.4 397.6h11.1M195.6 399.3h12.8M197.3 401h9.4M196.4 402.7h11.1M196.4 404.4h11.1M197.3 406.1h9.4M197.3 407.8h9.4M197.3 409.5h9.4M198.1 411.2h7.7M198.1 412.9h7.7M199 414.6h6M199.8 416.3h4.3M199 418h6M199 419.7h6M199.8 421.4h4.3" stroke="#5050ff" stroke-opacity="0.45" stroke-width="0.9" fill="none"/><path d="M200.7 300.7h2.6M200.7 307.5h2.6M200.7 309.2h2.6M200.7 310.9h2.6M200.7 312.6h2.6M200.7 314.3h2.6M200.7 316h2.6M199.9 317.7h4.3M200.7 322.8h2.6M200.7 331.3h2.6M200.7 333h2.6M200.7 334.7h2.6M200.7 336.4h2.6M200.7 339.8h2.6M199.9 341.5h4.3M199 343.2h6M199.9 344.9h4.3M199.9 346.6h4.3M200.7 348.3h2.6M200.7 350h2.6M200.7 351.7h2.6M200.7 353.4h2.6M199 355.1h6M199 356.8h6M199.9 358.5h4.3M199.9 360.2h4.3M199.9 361.9h4.3M199 363.6h6M198.2 365.3h7.7M199.9 367h4.3M198.2 368.7h7.7M198.2 370.4h7.7M198.2 372.1h7.7M198.2 373.8h7.7M198.2 375.5h7.7M197.3 377.2h9.4M195.6 378.9h12.8M194.8 380.6h14.5M198.2 382.3h7.7M196.5 384h11.1M194.8 385.7h14.5M193.9 387.4h16.2M193.9 389.1h16.2M197.3 390.8h9.4M194.8 392.5h14.5M195.6 394.2h12.8M197.3 395.9h9.4M197.3 397.6h9.4M196.5 399.3h11.1M198.2 401h7.7M197.3 402.7h9.4M197.3 404.4h9.4M198.2 406.1h7.7M198.2 407.8h7.7M198.2 409.5h7.7M199 411.2h6M199 412.9h6M199.9 414.6h4.3M200.7 416.3h2.6M199.9 418h4.3M199.9 419.7h4.3M200.7 421.4h2.6" stroke="#5050ff" stroke-opacity="0.45" stroke-width="2.6" stroke-dasharray="0.9 0.8" fill="none"/><path d="M201 286.1h2m-1 -1v2M201 289.8h2m-1 -1v2M201 292.3h2m-1 -1v2M201 303.5h2m-1 -1v2M201 306h2m-1 -1v2M201 319.6h2m-1 -1v2M201 328.2h2m-1 -1v2M201 330h2m-1 -1v2M201 333.2h2m-1 -1v2M201 340.6h2m-1 -1v2M201 304.1h2m-1 -1v2M201 321.1h2m-1 -1v2M201 324.5h2m-1 -1v2M201 327.9h2m-1 -1v2M201 423.1h2m-1 -1v2" stroke="#5050ff" stroke-opacity="0.55" stroke-width="0.9" fill="none"/><path d="M227.5 331.8h6M227.5 333.5h6M228.3 335.2h4.3M228.3 340.3h4.3M228.3 342h4.3M228.3 343.7h4.3M228.3 347.1h4.3M228.3 348.8h4.3M227.5 350.5h6M228.3 352.2h4.3M224.1 353.9h12.8M224.9 355.6h11.1M224.9 357.3h11.1M226.6 359h7.7M227.5 360.7h6M227.5 362.4h6M227.5 364.1h6M228.3 365.8h4.3M228.3 367.5h4.3M227.5 369.2h6M227.5 370.9h6M227.5 372.6h6M227.5 374.3h6M227.5 376h6M226.6 377.7h7.7M225.8 379.4h9.4M227.5 381.1h6M227.5 382.8h6M227.5 384.5h6M226.6 386.2h7.7M226.6 387.9h7.7M227.5 389.6h6M227.5 391.3h6M228.3 393h4.3M228.3 399.8h4.3" stroke="#5050ff" stroke-opacity="0.45" stroke-width="0.9" fill="none"/><path d="M228.4 331.8h4.3M228.4 333.5h4.3M229.2 335.2h2.6M229.2 340.3h2.6M229.2 342h2.6M229.2 343.7h2.6M229.2 347.1h2.6M229.2 348.8h2.6M228.4 350.5h4.3M229.2 352.2h2.6M225 353.9h11.1M225.8 355.6h9.4M225.8 357.3h9.4M227.5 359h6M228.4 360.7h4.3M228.4 362.4h4.3M228.4 364.1h4.3M229.2 365.8h2.6M229.2 367.5h2.6M228.4 369.2h4.3M228.4 370.9h4.3M228.4 372.6h4.3M228.4 374.3h4.3M228.4 376h4.3M227.5 377.7h6M226.7 379.4h7.7M228.4 381.1h4.3M228.4 382.8h4.3M228.4 384.5h4.3M227.5 386.2h6M227.5 387.9h6M228.4 389.6h4.3M228.4 391.3h4.3M229.2 393h2.6M229.2 399.8h2.6" stroke="#5050ff" stroke-opacity="0.45" stroke-width="2.6" stroke-dasharray="0.9 0.8" fill="none"/><path d="M229.5 253.3h2m-1 -1v2M229.5 281.7h2m-1 -1v2M229.5 283h2m-1 -1v2M229.5 295.7h2m-1 -1v2M229.5 298.5h2m-1 -1v2M229.5 303.4h2m-1 -1v2M229.5 304.7h2m-1 -1v2M229.5 306.5h2m-1 -1v2M229.5 309h2m-1 -1v2M229.5 313.3h2m-1 -1v2M229.5 317h2m-1 -1v2M229.5 318.3h2m-1 -1v2M229.5 322h2m-1 -1v2M229.5 325.1h2m-1 -1v2M229.5 327.6h2m-1 -1v2M229.5 336.9h2m-1 -1v2M229.5 397h2m-1 -1v2M229.5 399.5h2m-1 -1v2M229.5 402h2m-1 -1v2M229.5 412h2m-1 -1v2M229.5 414.5h2m-1 -1v2M229.5 417.3h2m-1 -1v2M229.5 421.2h2m-1 -1v2M229.5 336.9h2m-1 -1v2M229.5 338.6h2m-1 -1v2M229.5 394.7h2m-1 -1v2M229.5 398.1h2m-1 -1v2M229.5 401.5h2m-1 -1v2M229.5 403.2h2m-1 -1v2" stroke="#5050ff" stroke-opacity="0.55" stroke-width="0.9" fill="none"/><path d="M256.9 301.6h6M256.9 305h6M256.9 306.7h6M256 308.4h7.7M256.9 310.1h6M256 311.8h7.7M255.2 313.5h9.4M254.3 315.2h11.1M253.5 316.9h12.8M256 318.6h7.7M256.9 322h6M256.9 323.7h6M255.2 325.4h9.4M255.2 327.1h9.4M254.3 328.8h11.1M253.5 330.5h12.8M254.3 332.2h11.1M255.2 333.9h9.4M254.3 335.6h11.1M254.3 337.3h11.1M254.3 339h11.1M254.3 340.7h11.1M254.3 342.4h11.1M254.3 344.1h11.1M255.2 345.8h9.4M254.3 347.5h11.1M254.3 349.2h11.1M254.3 350.9h11.1M255.2 352.6h9.4M256 354.3h7.7M255.2 356h9.4M254.3 357.7h11.1M255.2 359.4h9.4M254.3 361.1h11.1M255.2 362.8h9.4M252.6 364.5h14.5M253.5 366.2h12.8M251.8 367.9h16.2M253.5 369.6h12.8M252.6 371.3h14.5M249.2 373h21.3M252.6 374.7h14.5M253.5 376.4h12.8M253.5 378.1h12.8M252.6 379.8h14.5M251.8 381.5h16.2M250.1 383.2h19.6M253.5 384.9h12.8M249.2 386.6h21.3M248.4 388.3h23M250.9 390h17.9M254.3 391.7h11.1M254.3 393.4h11.1M254.3 395.1h11.1M253.5 396.8h12.8M255.2 398.5h9.4M254.3 400.2h11.1M255.2 401.9h9.4M256 403.6h7.7M256 405.3h7.7M256.9 407h6M256 408.7h7.7M257.7 410.4h4.3M256.9 412.1h6M256.9 413.8h6M257.7 415.5h4.3" stroke="#5050ff" stroke-opacity="0.45" stroke-width="0.9" fill="none"/><path d="M257.8 301.6h4.3M257.8 305h4.3M257.8 306.7h4.3M256.9 308.4h6M257.8 310.1h4.3M256.9 311.8h6M256.1 313.5h7.7M255.2 315.2h9.4M254.3 316.9h11.1M256.9 318.6h6M257.8 322h4.3M257.8 323.7h4.3M256.1 325.4h7.7M256.1 327.1h7.7M255.2 328.8h9.4M254.3 330.5h11.1M255.2 332.2h9.4M256.1 333.9h7.7M255.2 335.6h9.4M255.2 337.3h9.4M255.2 339h9.4M255.2 340.7h9.4M255.2 342.4h9.4M255.2 344.1h9.4M256.1 345.8h7.7M255.2 347.5h9.4M255.2 349.2h9.4M255.2 350.9h9.4M256.1 352.6h7.7M256.9 354.3h6M256.1 356h7.7M255.2 357.7h9.4M256.1 359.4h7.7M255.2 361.1h9.4M256.1 362.8h7.7M253.5 364.5h12.8M254.3 366.2h11.1M252.6 367.9h14.5M254.3 369.6h11.1M253.5 371.3h12.8M250.1 373h19.6M253.5 374.7h12.8M254.3 376.4h11.1M254.3 378.1h11.1M253.5 379.8h12.8M252.6 381.5h14.5M250.9 383.2h17.9M254.3 384.9h11.1M250.1 386.6h19.6M249.2 388.3h21.3M251.8 390h16.2M255.2 391.7h9.4M255.2 393.4h9.4M255.2 395.1h9.4M254.3 396.8h11.1M256.1 398.5h7.7M255.2 400.2h9.4M256.1 401.9h7.7M256.9 403.6h6M256.9 405.3h6M257.8 407h4.3M256.9 408.7h6M258.6 410.4h2.6M257.8 412.1h4.3M257.8 413.8h4.3M258.6 415.5h2.6" stroke="#5050ff" stroke-opacity="0.45" stroke-width="2.6" stroke-dasharray="0.9 0.8" fill="none"/><path d="M258.9 277.4h2m-1 -1v2M258.9 286h2m-1 -1v2M258.9 288h2m-1 -1v2M258.9 292.3h2m-1 -1v2M258.9 294.7h2m-1 -1v2M258.9 297.8h2m-1 -1v2" stroke="#5050ff" stroke-opacity="0.55" stroke-width="0.9" fill="none"/></g><path d="M46.2 386.3H68M46.2 397H68M46.2 410.3H68" stroke="#444" stroke-width="1.3" fill="none"/><path d="M75.1 377.5H96.9M75.1 388.4H96.9M75.1 398.3H96.9" stroke="#444" stroke-width="1.3" fill="none"/><path d="M104.2 379.4H126M104.2 389.2H126M104.2 400.1H126" stroke="#444" stroke-width="1.3" fill="none"/><path d="M133.1 375.4H154.9M133.1 390.4H154.9M133.1 399.9H154.9" stroke="#444" stroke-width="1.3" fill="none"/><path d="M162 362.3H183.8M162 381.9H183.8M162 396.2H183.8" stroke="#444" stroke-width="1.3" fill="none"/><path d="M191.1 363.3H212.9M191.1 383.8H212.9M191.1 397.9H212.9" stroke="#444" stroke-width="1.3" fill="none"/><path d="M219.6 345.1H241.4M219.6 362.3H241.4M219.6 382.2H241.4" stroke="#444" stroke-width="1.3" fill="none"/><path d="M249 337.2H270.8M249 366.7H270.8M249 385.3H270.8" stroke="#444" stroke-width="1.3" fill="none"/><rect x="33.5" y="245.3" width="250" height="189" fill="none" stroke="#666" stroke-width="1.2"/><path d="M31.1 428.5H33.5M31.1 385.5H33.5M31.1 342.6H33.5M31.1 299.6H33.5M31.1 256.6H33.5" stroke="#444" stroke-width="1"/><text x="26" y="428.5" transform="rotate(-90 26 428.5)" text-anchor="middle" font-size="10.2">0.0</text><text x="26" y="385.5" transform="rotate(-90 26 385.5)" text-anchor="middle" font-size="10.2">0.5</text><text x="26" y="342.6" transform="rotate(-90 26 342.6)" text-anchor="middle" font-size="10.2">1.0</text><text x="26" y="299.6" transform="rotate(-90 26 299.6)" text-anchor="middle" font-size="10.2">1.5</text><text x="26" y="256.6" transform="rotate(-90 26 256.6)" text-anchor="middle" font-size="10.2">2.0</text><text transform="translate(57.1 445.1) scale(1 1.13)" text-anchor="middle" font-size="9.4">N1</text><text transform="translate(86 445.1) scale(1 1.13)" text-anchor="middle" font-size="9.4">N2</text><text transform="translate(115.1 445.1) scale(1 1.13)" text-anchor="middle" font-size="9.4">N3</text><text transform="translate(144 445.1) scale(1 1.13)" text-anchor="middle" font-size="9.4">N4</text><text transform="translate(172.9 445.1) scale(1 1.13)" text-anchor="middle" font-size="9.4">S1</text><text transform="translate(202 445.1) scale(1 1.13)" text-anchor="middle" font-size="9.4">S2</text><text transform="translate(230.5 445.1) scale(1 1.13)" text-anchor="middle" font-size="9.4">S3</text><text transform="translate(259.9 445.1) scale(1 1.13)" text-anchor="middle" font-size="9.4">S4</text><text x="11.4" y="339.8" transform="rotate(-90 11.4 339.8)" text-anchor="middle" font-size="10">Curvature (<tspan font-size="10">&#956;</tspan>m<tspan font-size="7.6" dy="-5">&#8722;1</tspan><tspan dy="5">)</tspan></text><g filter="url(#bl)"><path d="M368.3 374.1h4.3M367.5 375.8h6M366.6 377.5h7.7M366.6 379.2h7.7M364.9 380.9h11.1M364.9 382.6h11.1M363.2 384.3h14.5M365.8 386h9.4M364.1 387.7h12.8M365.8 389.4h9.4M365.8 391.1h9.4M366.6 392.8h7.7M365.8 394.5h9.4M364.9 396.2h11.1M364.1 397.9h12.8M364.9 399.6h11.1M365.8 401.3h9.4M364.9 403h11.1M361.6 404.7h17.9M364.9 406.4h11.1M364.9 408.1h11.1M364.9 409.8h11.1M365.8 411.5h9.4M365.8 413.2h9.4M366.6 414.9h7.7M364.9 416.6h11.1M364.1 418.3h12.8M364.1 420h12.8M363.2 421.7h14.5M363.2 423.4h14.5M364.9 425.1h11.1" stroke="#5050ff" stroke-opacity="0.45" stroke-width="0.9" fill="none"/><path d="M369.2 374.1h2.6M368.4 375.8h4.3M367.5 377.5h6M367.5 379.2h6M365.8 380.9h9.4M365.8 382.6h9.4M364.1 384.3h12.8M366.7 386h7.7M364.9 387.7h11.1M366.7 389.4h7.7M366.7 391.1h7.7M367.5 392.8h6M366.7 394.5h7.7M365.8 396.2h9.4M364.9 397.9h11.1M365.8 399.6h9.4M366.7 401.3h7.7M365.8 403h9.4M362.4 404.7h16.2M365.8 406.4h9.4M365.8 408.1h9.4M365.8 409.8h9.4M366.7 411.5h7.7M366.7 413.2h7.7M367.5 414.9h6M365.8 416.6h9.4M364.9 418.3h11.1M364.9 420h11.1M364.1 421.7h12.8M364.1 423.4h12.8M365.8 425.1h9.4" stroke="#5050ff" stroke-opacity="0.45" stroke-width="2.6" stroke-dasharray="0.9 0.8" fill="none"/><path d="M369.5 322.2h2m-1 -1v2M369.5 328h2m-1 -1v2M369.5 340h2m-1 -1v2M369.5 348.7h2m-1 -1v2M369.5 352.4h2m-1 -1v2M369.5 356.2h2m-1 -1v2M369.5 361.1h2m-1 -1v2M369.5 364.8h2m-1 -1v2M369.5 370.4h2m-1 -1v2" stroke="#5050ff" stroke-opacity="0.55" stroke-width="0.9" fill="none"/><path d="M396.6 374.7h6M394.9 376.4h9.4M394.1 378.1h11.1M391.5 379.8h16.2M393.2 381.5h12.8M390.7 383.2h17.9M393.2 384.9h12.8M394.1 386.6h11.1M393.2 388.3h12.8M394.1 390h11.1M393.2 391.7h12.8M392.4 393.4h14.5M394.1 395.1h11.1M394.1 396.8h11.1M394.9 398.5h9.4M394.1 400.2h11.1M394.9 401.9h9.4M394.1 403.6h11.1M394.9 405.3h9.4M395.8 407h7.7M394.9 408.7h9.4M394.9 410.4h9.4M393.2 412.1h12.8M393.2 413.8h12.8M395.8 415.5h7.7M395.8 417.2h7.7M395.8 418.9h7.7M393.2 420.6h12.8M396.6 422.3h6M395.8 424h7.7M397.4 425.7h4.3" stroke="#5050ff" stroke-opacity="0.45" stroke-width="0.9" fill="none"/><path d="M397.5 374.7h4.3M395.8 376.4h7.7M394.9 378.1h9.4M392.4 379.8h14.5M394.1 381.5h11.1M391.5 383.2h16.2M394.1 384.9h11.1M394.9 386.6h9.4M394.1 388.3h11.1M394.9 390h9.4M394.1 391.7h11.1M393.2 393.4h12.8M394.9 395.1h9.4M394.9 396.8h9.4M395.8 398.5h7.7M394.9 400.2h9.4M395.8 401.9h7.7M394.9 403.6h9.4M395.8 405.3h7.7M396.6 407h6M395.8 408.7h7.7M395.8 410.4h7.7M394.1 412.1h11.1M394.1 413.8h11.1M396.6 415.5h6M396.6 417.2h6M396.6 418.9h6M394.1 420.6h11.1M397.5 422.3h4.3M396.6 424h6M398.3 425.7h2.6" stroke="#5050ff" stroke-opacity="0.45" stroke-width="2.6" stroke-dasharray="0.9 0.8" fill="none"/><path d="M398.6 322.2h2m-1 -1v2M398.6 331h2m-1 -1v2M398.6 339h2m-1 -1v2M398.6 350h2m-1 -1v2M398.6 356.2h2m-1 -1v2M398.6 364.2h2m-1 -1v2M398.6 367.3h2m-1 -1v2M398.6 371h2m-1 -1v2" stroke="#5050ff" stroke-opacity="0.55" stroke-width="0.9" fill="none"/><path d="M424.6 384.4h7.7M425.5 386.1h6M425.5 387.8h6M426.3 389.5h4.3M425.5 391.2h6M425.5 392.9h6M425.5 394.6h6M424.6 396.3h7.7M422.9 398h11.1M422.9 399.7h11.1M423.8 401.4h9.4M422.9 403.1h11.1M421.2 404.8h14.5M424.6 406.5h7.7M423.8 408.2h9.4M418.7 409.9h19.6M422.9 411.6h11.1M422.1 413.3h12.8M423.8 415h9.4M422.1 416.7h12.8M422.9 418.4h11.1M422.1 420.1h12.8M423.8 421.8h9.4M422.1 423.5h12.8M425.5 425.2h6" stroke="#5050ff" stroke-opacity="0.45" stroke-width="0.9" fill="none"/><path d="M425.5 384.4h6M426.4 386.1h4.3M426.4 387.8h4.3M427.2 389.5h2.6M426.4 391.2h4.3M426.4 392.9h4.3M426.4 394.6h4.3M425.5 396.3h6M423.8 398h9.4M423.8 399.7h9.4M424.7 401.4h7.7M423.8 403.1h9.4M422.1 404.8h12.8M425.5 406.5h6M424.7 408.2h7.7M419.6 409.9h17.9M423.8 411.6h9.4M422.9 413.3h11.1M424.7 415h7.7M422.9 416.7h11.1M423.8 418.4h9.4M422.9 420.1h11.1M424.7 421.8h7.7M422.9 423.5h11.1M426.4 425.2h4.3" stroke="#5050ff" stroke-opacity="0.45" stroke-width="2.6" stroke-dasharray="0.9 0.8" fill="none"/><path d="M427.5 372.9h2m-1 -1v2M427.5 376h2m-1 -1v2M427.5 379h2m-1 -1v2M427.5 382.2h2m-1 -1v2" stroke="#5050ff" stroke-opacity="0.55" stroke-width="0.9" fill="none"/><path d="M454.6 378.5h6M453.8 380.2h7.7M453.8 381.9h7.7M452.1 383.6h11.1M453.8 385.3h7.7M452.9 387h9.4M452.1 388.7h11.1M453.8 390.4h7.7M453.8 392.1h7.7M450.4 393.8h14.5M450.4 395.5h14.5M452.1 397.2h11.1M450.4 398.9h14.5M452.9 400.6h9.4M453.8 402.3h7.7M454.6 404h6M453.8 405.7h7.7M453.8 407.4h7.7M452.9 409.1h9.4M453.8 410.8h7.7M452.9 412.5h9.4M453.8 414.2h7.7M453.8 415.9h7.7M454.6 419.3h6M455.4 421h4.3M452.9 422.7h9.4M455.4 424.4h4.3" stroke="#5050ff" stroke-opacity="0.45" stroke-width="0.9" fill="none"/><path d="M455.5 378.5h4.3M454.6 380.2h6M454.6 381.9h6M452.9 383.6h9.4M454.6 385.3h6M453.8 387h7.7M452.9 388.7h9.4M454.6 390.4h6M454.6 392.1h6M451.2 393.8h12.8M451.2 395.5h12.8M452.9 397.2h9.4M451.2 398.9h12.8M453.8 400.6h7.7M454.6 402.3h6M455.5 404h4.3M454.6 405.7h6M454.6 407.4h6M453.8 409.1h7.7M454.6 410.8h6M453.8 412.5h7.7M454.6 414.2h6M454.6 415.9h6M455.5 419.3h4.3M456.3 421h2.6M453.8 422.7h7.7M456.3 424.4h2.6" stroke="#5050ff" stroke-opacity="0.45" stroke-width="2.6" stroke-dasharray="0.9 0.8" fill="none"/><path d="M456.6 306.6h2m-1 -1v2M456.6 349.3h2m-1 -1v2M456.6 356.2h2m-1 -1v2M456.6 364.2h2m-1 -1v2M456.6 367.3h2m-1 -1v2M456.6 369.8h2m-1 -1v2M456.6 373.5h2m-1 -1v2" stroke="#5050ff" stroke-opacity="0.55" stroke-width="0.9" fill="none"/><path d="M482.6 376h7.7M482.6 377.7h7.7M482.6 379.4h7.7M482.6 381.1h7.7M482.6 382.8h7.7M482.6 384.5h7.7M481.8 386.2h9.4M481.8 387.9h9.4M481.8 389.6h9.4M480.9 391.3h11.1M480.1 393h12.8M480.9 394.7h11.1M480.9 396.4h11.1M481.8 398.1h9.4M479.2 399.8h14.5M480.9 401.5h11.1M480.9 403.2h11.1M480.9 404.9h11.1M480.9 406.6h11.1M480.1 408.3h12.8M480.1 410h12.8M481.8 411.7h9.4M480.9 413.4h11.1M478.4 415.1h16.2M481.8 416.8h9.4M481.8 418.5h9.4M482.6 420.2h7.7M482.6 421.9h7.7M483.5 423.6h6M484.3 425.3h4.3" stroke="#5050ff" stroke-opacity="0.45" stroke-width="0.9" fill="none"/><path d="M483.5 376h6M483.5 377.7h6M483.5 379.4h6M483.5 381.1h6M483.5 382.8h6M483.5 384.5h6M482.7 386.2h7.7M482.7 387.9h7.7M482.7 389.6h7.7M481.8 391.3h9.4M480.9 393h11.1M481.8 394.7h9.4M481.8 396.4h9.4M482.7 398.1h7.7M480.1 399.8h12.8M481.8 401.5h9.4M481.8 403.2h9.4M481.8 404.9h9.4M481.8 406.6h9.4M480.9 408.3h11.1M480.9 410h11.1M482.7 411.7h7.7M481.8 413.4h9.4M479.2 415.1h14.5M482.7 416.8h7.7M482.7 418.5h7.7M483.5 420.2h6M483.5 421.9h6M484.4 423.6h4.3M485.2 425.3h2.6" stroke="#5050ff" stroke-opacity="0.45" stroke-width="2.6" stroke-dasharray="0.9 0.8" fill="none"/><path d="M485.5 339.4h2m-1 -1v2M485.5 345.3h2m-1 -1v2M485.5 357.4h2m-1 -1v2M485.5 366.7h2m-1 -1v2M485.5 369.8h2m-1 -1v2M485.5 373.5h2m-1 -1v2" stroke="#5050ff" stroke-opacity="0.55" stroke-width="0.9" fill="none"/><path d="M513.5 379.7h4.3M512.6 381.4h6M512.6 383.1h6M509.2 384.8h12.8M510.1 386.5h11.1M509.2 388.2h12.8M510.9 389.9h9.4M508.4 391.6h14.5M509.2 393.3h12.8M510.1 395h11.1M510.1 396.7h11.1M507.5 398.4h16.2M508.4 400.1h14.5M506.7 401.8h17.9M507.5 403.5h16.2M506.7 405.2h17.9M507.5 406.9h16.2M509.2 408.6h12.8M509.2 410.3h12.8M510.1 412h11.1M504.9 413.7h21.3M510.1 415.4h11.1M509.2 417.1h12.8M510.9 418.8h9.4M511.8 420.5h7.7M510.9 422.2h9.4M510.9 423.9h9.4" stroke="#5050ff" stroke-opacity="0.45" stroke-width="0.9" fill="none"/><path d="M514.3 379.7h2.6M513.4 381.4h4.3M513.4 383.1h4.3M510.1 384.8h11.1M510.9 386.5h9.4M510.1 388.2h11.1M511.8 389.9h7.7M509.2 391.6h12.8M510.1 393.3h11.1M510.9 395h9.4M510.9 396.7h9.4M508.4 398.4h14.5M509.2 400.1h12.8M507.5 401.8h16.2M508.4 403.5h14.5M507.5 405.2h16.2M508.4 406.9h14.5M510.1 408.6h11.1M510.1 410.3h11.1M510.9 412h9.4M505.8 413.7h19.6M510.9 415.4h9.4M510.1 417.1h11.1M511.8 418.8h7.7M512.6 420.5h6M511.8 422.2h7.7M511.8 423.9h7.7" stroke="#5050ff" stroke-opacity="0.45" stroke-width="2.6" stroke-dasharray="0.9 0.8" fill="none"/><path d="M514.6 348.4h2m-1 -1v2M514.6 354.3h2m-1 -1v2M514.6 358.6h2m-1 -1v2M514.6 361h2m-1 -1v2M514.6 364.8h2m-1 -1v2M514.6 369.8h2m-1 -1v2M514.6 374.1h2m-1 -1v2M514.6 377.2h2m-1 -1v2" stroke="#5050ff" stroke-opacity="0.55" stroke-width="0.9" fill="none"/><path d="M542.1 366.5h4.3M541.3 368.2h6M542.1 369.9h4.3M541.3 375h6M542.1 378.4h4.3M541.3 380.1h6M540.5 381.8h7.7M540.5 383.5h7.7M540.5 385.2h7.7M539.6 386.9h9.4M540.5 388.6h7.7M539.6 390.3h9.4M539.6 392h9.4M540.5 393.7h7.7M538.8 395.4h11.1M538.8 397.1h11.1M540.5 398.8h7.7M539.6 400.5h9.4M541.3 402.2h6M541.3 403.9h6M541.3 405.6h6M542.1 407.3h4.3M541.3 409h6M542.1 410.7h4.3M542.1 412.4h4.3M541.3 414.1h6M540.5 415.8h7.7M540.5 417.5h7.7M541.3 419.2h6M540.5 420.9h7.7M541.3 422.6h6M541.3 424.3h6" stroke="#5050ff" stroke-opacity="0.45" stroke-width="0.9" fill="none"/><path d="M543 366.5h2.6M542.1 368.2h4.3M543 369.9h2.6M542.1 375h4.3M543 378.4h2.6M542.1 380.1h4.3M541.3 381.8h6M541.3 383.5h6M541.3 385.2h6M540.4 386.9h7.7M541.3 388.6h6M540.4 390.3h7.7M540.4 392h7.7M541.3 393.7h6M539.6 395.4h9.4M539.6 397.1h9.4M541.3 398.8h6M540.4 400.5h7.7M542.1 402.2h4.3M542.1 403.9h4.3M542.1 405.6h4.3M543 407.3h2.6M542.1 409h4.3M543 410.7h2.6M543 412.4h2.6M542.1 414.1h4.3M541.3 415.8h6M541.3 417.5h6M542.1 419.2h4.3M541.3 420.9h6M542.1 422.6h4.3M542.1 424.3h4.3" stroke="#5050ff" stroke-opacity="0.45" stroke-width="2.6" stroke-dasharray="0.9 0.8" fill="none"/><path d="M543.3 332.2h2m-1 -1v2M543.3 341.7h2m-1 -1v2M543.3 349h2m-1 -1v2M543.3 354.1h2m-1 -1v2M543.3 357.7h2m-1 -1v2M543.3 359.2h2m-1 -1v2M543.3 363.6h2m-1 -1v2" stroke="#5050ff" stroke-opacity="0.55" stroke-width="0.9" fill="none"/><path d="M571.4 369.7h4.3M571.4 371.4h4.3M571.4 373.1h4.3M570.5 374.8h6M570.5 376.5h6M570.5 378.2h6M569.7 379.9h7.7M569.7 381.6h7.7M568.8 383.3h9.4M568.8 385h9.4M568.8 386.7h9.4M568.8 388.4h9.4M569.7 390.1h7.7M566.2 391.8h14.5M569.7 393.5h7.7M569.7 395.2h7.7M568 396.9h11.1M565.4 398.6h16.2M568 400.3h11.1M569.7 402h7.7M568 403.7h11.1M570.5 405.4h6M570.5 407.1h6M571.4 408.8h4.3M571.4 410.5h4.3M570.5 412.2h6M569.7 417.3h7.7M569.7 419h7.7M570.5 420.7h6M571.4 422.4h4.3M571.4 424.1h4.3" stroke="#5050ff" stroke-opacity="0.45" stroke-width="0.9" fill="none"/><path d="M572.2 369.7h2.6M572.2 371.4h2.6M572.2 373.1h2.6M571.3 374.8h4.3M571.3 376.5h4.3M571.3 378.2h4.3M570.5 379.9h6M570.5 381.6h6M569.6 383.3h7.7M569.6 385h7.7M569.6 386.7h7.7M569.6 388.4h7.7M570.5 390.1h6M567.1 391.8h12.8M570.5 393.5h6M570.5 395.2h6M568.8 396.9h9.4M566.2 398.6h14.5M568.8 400.3h9.4M570.5 402h6M568.8 403.7h9.4M571.3 405.4h4.3M571.3 407.1h4.3M572.2 408.8h2.6M572.2 410.5h2.6M571.3 412.2h4.3M570.5 417.3h6M570.5 419h6M571.3 420.7h4.3M572.2 422.4h2.6M572.2 424.1h2.6" stroke="#5050ff" stroke-opacity="0.45" stroke-width="2.6" stroke-dasharray="0.9 0.8" fill="none"/><path d="M572.5 323.2h2m-1 -1v2M572.5 351.2h2m-1 -1v2M572.5 365h2m-1 -1v2M572.5 413.9h2m-1 -1v2" stroke="#5050ff" stroke-opacity="0.55" stroke-width="0.9" fill="none"/></g><path d="M359.6 389.2H381.4M359.6 404.2H381.4M359.6 416.9H381.4" stroke="#444" stroke-width="1.3" fill="none"/><path d="M388.7 384H410.5M388.7 393.3H410.5M388.7 406.7H410.5" stroke="#444" stroke-width="1.3" fill="none"/><path d="M417.6 398.3H439.4M417.6 408.4H439.4M417.6 416H439.4" stroke="#444" stroke-width="1.3" fill="none"/><path d="M446.7 390.8H468.5M446.7 397.4H468.5M446.7 410.3H468.5" stroke="#444" stroke-width="1.3" fill="none"/><path d="M475.6 390.2H497.4M475.6 401H497.4M475.6 410.9H497.4" stroke="#444" stroke-width="1.3" fill="none"/><path d="M504.7 391.8H526.5M504.7 402H526.5M504.7 411.5H526.5" stroke="#444" stroke-width="1.3" fill="none"/><path d="M533.4 381.8H555.2M533.4 394.2H555.2M533.4 408.8H555.2" stroke="#444" stroke-width="1.3" fill="none"/><path d="M562.6 382.3H584.4M562.6 391H584.4M562.6 402.3H584.4" stroke="#444" stroke-width="1.3" fill="none"/><rect x="347.3" y="245.1" width="250.3" height="189.2" fill="none" stroke="#666" stroke-width="1.2"/><path d="M344.9 427.4H347.3M344.9 383.6H347.3M344.9 339.8H347.3M344.9 296H347.3M344.9 252.2H347.3" stroke="#444" stroke-width="1"/><text x="339.5" y="427.4" transform="rotate(-90 339.5 427.4)" text-anchor="middle" font-size="10.2">0.0</text><text x="339.5" y="383.6" transform="rotate(-90 339.5 383.6)" text-anchor="middle" font-size="10.2">0.5</text><text x="339.5" y="339.8" transform="rotate(-90 339.5 339.8)" text-anchor="middle" font-size="10.2">1.0</text><text x="339.5" y="296" transform="rotate(-90 339.5 296)" text-anchor="middle" font-size="10.2">1.5</text><text x="339.5" y="252.2" transform="rotate(-90 339.5 252.2)" text-anchor="middle" font-size="10.2">2.0</text><text transform="translate(370.5 445.1) scale(1 1.13)" text-anchor="middle" font-size="9.4">N1</text><text transform="translate(399.6 445.1) scale(1 1.13)" text-anchor="middle" font-size="9.4">N2</text><text transform="translate(428.5 445.1) scale(1 1.13)" text-anchor="middle" font-size="9.4">N3</text><text transform="translate(457.6 445.1) scale(1 1.13)" text-anchor="middle" font-size="9.4">N4</text><text transform="translate(486.5 445.1) scale(1 1.13)" text-anchor="middle" font-size="9.4">S1</text><text transform="translate(515.6 445.1) scale(1 1.13)" text-anchor="middle" font-size="9.4">S2</text><text transform="translate(544.3 445.1) scale(1 1.13)" text-anchor="middle" font-size="9.4">S3</text><text transform="translate(573.5 445.1) scale(1 1.13)" text-anchor="middle" font-size="9.4">S4</text><text x="325.6" y="339.7" transform="rotate(-90 325.6 339.7)" text-anchor="middle" font-size="10">Curvature (<tspan font-size="10">&#956;</tspan>m<tspan font-size="7.6" dy="-5">&#8722;1</tspan><tspan dy="5">)</tspan></text><rect x="51.2" y="474.9" width="234" height="175.5" fill="none" stroke="#555" stroke-width="1"/><path d="M51.2 474.9V650.4" stroke="#777" stroke-width="1.4"/><path d="M47.2 650.4H285.2" stroke="#333" stroke-width="1.2"/><text x="36.4" y="654.3" text-anchor="end" font-size="11">0.00</text><text x="36.4" y="621.9" text-anchor="end" font-size="11">0.05</text><text x="36.4" y="589.4" text-anchor="end" font-size="11">0.10</text><text x="36.4" y="557" text-anchor="end" font-size="11">0.15</text><text x="36.4" y="524.5" text-anchor="end" font-size="11">0.20</text><text x="36.4" y="492.1" text-anchor="end" font-size="11">0.25</text><path d="M47 650.4H51.2M47 618H51.2M47 585.5H51.2M47 553.1H51.2M47 520.6H51.2M47 488.2H51.2" stroke="#555" stroke-width="1"/><path d="M51.2 650.4V653.9M77.2 650.4V653.9M103.2 650.4V653.9M129.2 650.4V653.9M155.2 650.4V653.9M181.2 650.4V653.9M207.2 650.4V653.9M233.2 650.4V653.9M259.2 650.4V653.9M285.2 650.4V653.9" stroke="#333" stroke-width="1"/><text x="52.7" y="667.2" text-anchor="middle" font-size="11">0.0</text><text x="109.7" y="667.2" text-anchor="middle" font-size="11">0.4</text><text x="168.2" y="667.2" text-anchor="middle" font-size="11">0.8</text><text x="226.7" y="667.2" text-anchor="middle" font-size="11">1.2</text><text x="285.2" y="667.2" text-anchor="middle" font-size="11">1.6</text><polyline points="57.7,618.3 70.7,560.9 83.7,559.6 96.7,541.4 109.7,566.1 122.7,570.6 135.7,599.8 148.7,622 161.7,625.1 174.7,626.6 187.7,633.2 200.7,641.8 213.7,646.6 226.7,646.6 239.7,648.1 252.7,650.4 265.7,650.4 278.7,650.4" fill="none" stroke="#ff0000" stroke-width="2.1" stroke-linejoin="round"/><polyline points="57.7,639.1 70.7,627.7 83.7,615.7 96.7,591.4 109.7,553.7 122.7,563.8 135.7,583.6 148.7,603 161.7,620.2 174.7,612.1 187.7,608.2 200.7,613.4 213.7,625.7 226.7,623.8 239.7,635.5 252.7,643.5 265.7,647 278.7,649.1" fill="none" stroke="#7030a0" stroke-width="2.1" stroke-linejoin="round"/><polyline points="57.7,609.5 70.7,616 83.7,614.7 96.7,577.1 109.7,551.8 122.7,567.4 135.7,583.6 148.7,600.8 161.7,590.7 174.7,625.1 187.7,626.6 200.7,626.6 213.7,638.7 226.7,644.2 239.7,642.8 252.7,645.3 265.7,648.7 278.7,648.7" fill="none" stroke="#18b4ef" stroke-width="2.1" stroke-linejoin="round"/><polyline points="57.7,608.9 70.7,582.3 83.7,554.4 96.7,543.3 109.7,545.3 122.7,577.1 135.7,611.5 148.7,615.7 161.7,630.5 174.7,634.2 187.7,639.1 200.7,644.2 213.7,639 226.7,641.1 239.7,643 252.7,648.5 265.7,646.7 278.7,650.4" fill="none" stroke="#e67817" stroke-width="2.1" stroke-linejoin="round"/><rect x="364.5" y="477" width="234.3" height="173.3" fill="none" stroke="#555" stroke-width="1"/><path d="M364.5 477V650.3" stroke="#333" stroke-width="1.2"/><path d="M360.5 650.3H598.8" stroke="#333" stroke-width="1.2"/><text x="351.2" y="654.2" text-anchor="end" font-size="10.2">0.00</text><text x="351.2" y="622.2" text-anchor="end" font-size="10.2">0.05</text><text x="351.2" y="590.3" text-anchor="end" font-size="10.2">0.10</text><text x="351.2" y="558.3" text-anchor="end" font-size="10.2">0.15</text><text x="351.2" y="526.4" text-anchor="end" font-size="10.2">0.20</text><text x="351.2" y="494.4" text-anchor="end" font-size="10.2">0.25</text><path d="M360.3 650.3H364.5M360.3 618.3H364.5M360.3 586.4H364.5M360.3 554.4H364.5M360.3 522.5H364.5M360.3 490.5H364.5" stroke="#555" stroke-width="1"/><path d="M364.5 650.3V653.8M390.5 650.3V653.8M416.6 650.3V653.8M442.6 650.3V653.8M468.6 650.3V653.8M494.7 650.3V653.8M520.7 650.3V653.8M546.7 650.3V653.8M572.8 650.3V653.8M598.8 650.3V653.8" stroke="#333" stroke-width="1"/><text x="366" y="667.1" text-anchor="middle" font-size="10.2">0.0</text><text x="423.1" y="667.1" text-anchor="middle" font-size="10.2">0.4</text><text x="481.6" y="667.1" text-anchor="middle" font-size="10.2">0.8</text><text x="540.2" y="667.1" text-anchor="middle" font-size="10.2">1.2</text><text x="598.8" y="667.1" text-anchor="middle" font-size="10.2">1.6</text><polyline points="371,552.8 384,536.7 397,544.6 410.1,548.7 423.1,547.4 436.1,591.2 449.1,625.4 462.1,639.3 475.1,637 488.2,645.7 501.2,648.4 514.2,648.4 527.2,649 540.2,649.7 553.2,650.3 566.3,650.3 579.3,650.3 592.3,650.3" fill="none" stroke="#ff0000" stroke-width="1.6" stroke-linejoin="round"/><polyline points="371,617.7 384,600.4 397,581.3 410.1,533.3 423.1,492.4 436.1,539.7 449.1,587 462.1,630.7 475.1,642.1 488.2,641.1 501.2,642.9 514.2,646 527.2,647.7 540.2,648.4 553.2,650.3 566.3,648.4 579.3,649.8 592.3,650.3" fill="none" stroke="#e67817" stroke-width="1.6" stroke-linejoin="round"/><polyline points="371,613.2 384,576.2 397,573.1 410.1,495.8 423.1,536.5 436.1,574.9 449.1,596 462.1,623.1 475.1,637.5 488.2,643.3 501.2,644.9 514.2,646 527.2,645.7 540.2,647.8 553.2,650.3 566.3,650.3 579.3,650.3 592.3,650.3" fill="none" stroke="#7030a0" stroke-width="1.6" stroke-linejoin="round"/><polyline points="371,586.4 384,561.6 397,560.3 410.1,531.4 423.1,532.9 436.1,562.1 449.1,611.3 462.1,630.7 475.1,647.3 488.2,643.9 501.2,645.2 514.2,650.3 527.2,649.5 540.2,647.8 553.2,650.3 566.3,650.3 579.3,650.3 592.3,650.3" fill="none" stroke="#18b4ef" stroke-width="1.6" stroke-linejoin="round"/><text x="9.9" y="570.3" transform="rotate(-90 9.9 570.3)" text-anchor="middle" font-size="11.4">Fraction</text><text x="163.5" y="682" text-anchor="middle" font-size="11.3">Curvature (&#956;m<tspan font-size="7.5" dy="-4">-1</tspan><tspan dy="4">)</tspan></text><text x="324.6" y="573.7" transform="rotate(-90 324.6 573.7)" text-anchor="middle" font-size="11">Fraction</text><text x="477.3" y="682" text-anchor="middle" font-size="11">Curvature (&#956;m<tspan font-size="7.5" dy="-4">-1</tspan><tspan dy="4">)</tspan></text></svg></body></html>
